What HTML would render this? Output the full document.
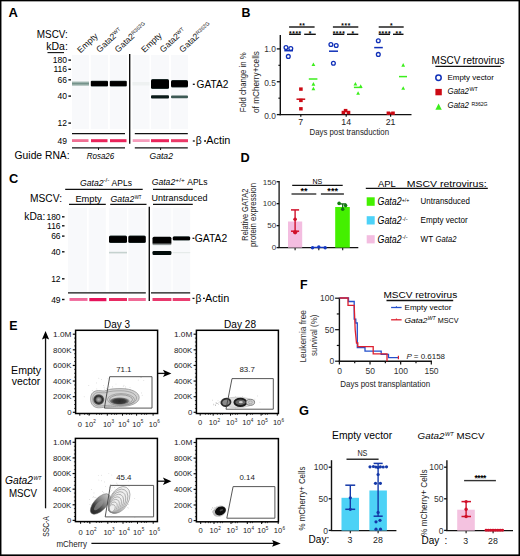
<!DOCTYPE html>
<html><head><meta charset="utf-8"><style>
html,body{margin:0;padding:0;background:#fff;}
body{width:520px;height:556px;overflow:hidden;position:relative;}
svg{position:absolute;left:0;top:0;display:block;}
text{font-family:"Liberation Sans", sans-serif;}
</style></head><body>
<svg width="520" height="556" viewBox="0 0 520 556" font-family='"Liberation Sans", sans-serif'>
<rect x="0" y="0" width="520" height="556" fill="#fff"/>
<defs>
<linearGradient id="bandFaint" x1="0" y1="0" x2="0" y2="1">
<stop offset="0" stop-color="#c9d6d2"/><stop offset="0.5" stop-color="#6f8f86"/><stop offset="1" stop-color="#d0dbd8"/></linearGradient>
<linearGradient id="bandDark" x1="0" y1="0" x2="0" y2="1">
<stop offset="0" stop-color="#2a3c3a"/><stop offset="0.15" stop-color="#000"/><stop offset="0.85" stop-color="#000"/><stop offset="1" stop-color="#2a3c3a"/></linearGradient>
<linearGradient id="bandFade" x1="0" y1="0" x2="0" y2="1">
<stop offset="0" stop-color="#000"/><stop offset="0.66" stop-color="#000"/><stop offset="1" stop-color="#e4ecec"/></linearGradient>
<filter id="soft" x="-20%" y="-20%" width="140%" height="140%"><feGaussianBlur stdDeviation="0.45"/></filter>
<radialGradient id="ringL" cx="0.5" cy="0.5" r="0.5">
<stop offset="0" stop-color="#b8b8b8"/><stop offset="0.3" stop-color="#8a8a8a"/><stop offset="0.6" stop-color="#262626"/><stop offset="0.8" stop-color="#555"/><stop offset="1" stop-color="#aaa" stop-opacity="0"/></radialGradient>
<radialGradient id="blobR" cx="0.5" cy="0.6" r="0.5">
<stop offset="0" stop-color="#2a2a2a"/><stop offset="0.55" stop-color="#3a3a3a"/><stop offset="0.8" stop-color="#777"/><stop offset="1" stop-color="#999" stop-opacity="0"/></radialGradient>
<linearGradient id="ringD" x1="0" y1="0" x2="1" y2="0">
<stop offset="0" stop-color="#2a2a2a"/><stop offset="0.3" stop-color="#3a3a3a"/><stop offset="0.55" stop-color="#777"/><stop offset="0.8" stop-color="#a8a8a8"/><stop offset="1" stop-color="#c8c8c8"/></linearGradient>
<radialGradient id="blob" cx="0.5" cy="0.5" r="0.5">
<stop offset="0" stop-color="#111"/><stop offset="0.6" stop-color="#333"/><stop offset="1" stop-color="#888" stop-opacity="0.3"/></radialGradient>
</defs>
<text x="8.6" y="16.8" font-size="12.6" font-weight="bold" fill="#000" textLength="9.4" lengthAdjust="spacingAndGlyphs">A</text>
<text x="67.8" y="37.8" font-size="10.5" text-anchor="end" textLength="31" lengthAdjust="spacingAndGlyphs">MSCV:</text>
<text x="67.8" y="50.3" font-size="10.5" text-anchor="end" textLength="21.5" lengthAdjust="spacingAndGlyphs">kDa:</text>
<line x1="47.5" y1="52.6" x2="64" y2="52.6" stroke="#111" stroke-width="1.1" />
<text x="80.5" y="53.4" font-size="8.6" fill="#111" transform="rotate(-43 80.5 53.4)">Empty</text>
<text x="99.5" y="52.9" font-size="8.6" fill="#111" transform="rotate(-43 99.5 52.9)">Gata2<tspan font-size="5.2" dy="-2.6">WT</tspan></text>
<text x="118.0" y="52.9" font-size="8.6" fill="#111" transform="rotate(-43 118.0 52.9)">Gata2<tspan font-size="5.2" dy="-2.6">R362G</tspan></text>
<text x="144.5" y="52.9" font-size="8.6" fill="#111" transform="rotate(-43 144.5 52.9)">Empty</text>
<text x="163.0" y="52.9" font-size="8.6" fill="#111" transform="rotate(-43 163.0 52.9)">Gata2<tspan font-size="5.2" dy="-2.6">WT</tspan></text>
<text x="182.5" y="52.9" font-size="8.6" fill="#111" transform="rotate(-43 182.5 52.9)">Gata2<tspan font-size="5.2" dy="-2.6">R362G</tspan></text>
<text x="67.0" y="63.1" font-size="8.5" text-anchor="end">180</text>
<line x1="68.4" y1="60.1" x2="71.0" y2="60.1" stroke="#111" stroke-width="1.4" />
<text x="67.0" y="72.3" font-size="8.5" text-anchor="end">116</text>
<line x1="68.4" y1="69.3" x2="71.0" y2="69.3" stroke="#111" stroke-width="1.4" />
<text x="67.0" y="82.8" font-size="8.5" text-anchor="end">66</text>
<line x1="68.4" y1="79.8" x2="71.0" y2="79.8" stroke="#111" stroke-width="1.4" />
<text x="67.0" y="99.1" font-size="8.5" text-anchor="end">40</text>
<line x1="68.4" y1="96.1" x2="71.0" y2="96.1" stroke="#111" stroke-width="1.4" />
<text x="67.0" y="126.1" font-size="8.5" text-anchor="end">12</text>
<line x1="68.4" y1="123.1" x2="71.0" y2="123.1" stroke="#111" stroke-width="1.4" />
<text x="67.0" y="143.6" font-size="8.5" text-anchor="end">49</text>
<rect x="72" y="55" width="17" height="74" fill="#f8f9fb" />
<rect x="90.8" y="55" width="17.200000000000003" height="74" fill="#f8f9fb" />
<rect x="109.8" y="55" width="17.200000000000003" height="74" fill="#f8f9fb" />
<rect x="132.5" y="55" width="17.0" height="74" fill="#f8f9fb" />
<rect x="151" y="55" width="18" height="74" fill="#f8f9fb" />
<rect x="171" y="55" width="17" height="74" fill="#f8f9fb" />
<rect x="72" y="81.3" width="17" height="4.7" fill="url(#bandFaint)" />
<rect x="90.8" y="80.8" width="17.2" height="5.8" fill="url(#bandDark)" rx="1"/>
<rect x="109.8" y="80.8" width="17" height="5.8" fill="url(#bandDark)" rx="1"/>
<rect x="132.5" y="82" width="17" height="3.5" fill="#eef1f1" />
<rect x="151" y="79" width="18" height="10" fill="url(#bandDark)" rx="1.5"/>
<rect x="171" y="80" width="17" height="7.5" fill="url(#bandDark)" rx="1.5"/>
<rect x="151" y="95.3" width="18" height="3.2" fill="#0a1a18" rx="1"/>
<rect x="171" y="95.5" width="17" height="2.8" fill="#3d5a55" rx="1"/>
<line x1="72" y1="133.7" x2="125" y2="133.7" stroke="#111" stroke-width="1.3" />
<line x1="134.8" y1="133.7" x2="187.8" y2="133.7" stroke="#111" stroke-width="1.3" />
<line x1="72" y1="147.8" x2="125" y2="147.8" stroke="#111" stroke-width="1.3" />
<line x1="134.8" y1="147.8" x2="187.8" y2="147.8" stroke="#111" stroke-width="1.3" />
<line x1="98.5" y1="147.8" x2="98.5" y2="150" stroke="#111" stroke-width="1" />
<line x1="160.6" y1="147.8" x2="160.6" y2="150" stroke="#111" stroke-width="1" />
<line x1="129.7" y1="54" x2="129.7" y2="143.8" stroke="#111" stroke-width="1.4" />
<rect x="72" y="139.2" width="16.5" height="2.8" fill="#ef6f93" />
<rect x="91" y="139.2" width="16.5" height="3" fill="#e8245a" />
<rect x="110" y="139.2" width="16.5" height="3" fill="#e8245a" />
<rect x="132.7" y="139.2" width="17" height="2.8" fill="#f59cbb" />
<rect x="151" y="139.2" width="18" height="3" fill="#e8245a" />
<rect x="171" y="139.2" width="17" height="3" fill="#ea3a68" />
<line x1="192.8" y1="84.3" x2="194.8" y2="84.3" stroke="#111" stroke-width="1.3" />
<text x="196.6" y="87.7" font-size="10.3" textLength="31.8" lengthAdjust="spacingAndGlyphs">GATA2</text>
<line x1="192.8" y1="141" x2="194.8" y2="141" stroke="#111" stroke-width="1.3" />
<text x="195.8" y="143.5" font-size="10.3">β</text>
<line x1="204.1" y1="141" x2="206" y2="141" stroke="#111" stroke-width="1.3" />
<text x="206.2" y="143.5" font-size="10.3" textLength="24.2" lengthAdjust="spacingAndGlyphs">Actin</text>
<text x="14.6" y="159.3" font-size="10.6" textLength="55" lengthAdjust="spacingAndGlyphs">Guide RNA:</text>
<text x="100.5" y="158.8" font-size="8.2" text-anchor="middle" font-style="italic" textLength="27.5" lengthAdjust="spacingAndGlyphs">Rosa26</text>
<text x="161.2" y="158.8" font-size="8.2" text-anchor="middle" font-style="italic" textLength="23.5" lengthAdjust="spacingAndGlyphs">Gata2</text>
<text x="241.4" y="17.4" font-size="12.4" font-weight="bold" fill="#000">B</text>
<line x1="280.3" y1="35" x2="280.3" y2="115.3" stroke="#111" stroke-width="1.4" />
<line x1="276.8" y1="114.6" x2="280.3" y2="114.6" stroke="#111" stroke-width="1.3" />
<line x1="276.8" y1="81.75" x2="280.3" y2="81.75" stroke="#111" stroke-width="1.3" />
<line x1="276.8" y1="48.89999999999999" x2="280.3" y2="48.89999999999999" stroke="#111" stroke-width="1.3" />
<line x1="278.4" y1="98.175" x2="280.3" y2="98.175" stroke="#111" stroke-width="1.2" />
<line x1="278.4" y1="65.32499999999999" x2="280.3" y2="65.32499999999999" stroke="#111" stroke-width="1.2" />
<text x="275.8" y="52.3" font-size="8.4" text-anchor="end" fill="#333">1.0</text>
<text x="275.8" y="85.6" font-size="8.4" text-anchor="end" fill="#333">0.5</text>
<text x="275.8" y="118.7" font-size="8.4" text-anchor="end" fill="#333">0.0</text>
<line x1="279.6" y1="114.6" x2="411.5" y2="114.6" stroke="#111" stroke-width="1.4" />
<line x1="300.8" y1="114.6" x2="300.8" y2="116.8" stroke="#111" stroke-width="1.2" />
<text x="300.8" y="125.4" font-size="8.8" text-anchor="middle" fill="#222">7</text>
<line x1="346.2" y1="114.6" x2="346.2" y2="116.8" stroke="#111" stroke-width="1.2" />
<text x="346.2" y="125.4" font-size="8.8" text-anchor="middle" fill="#222">14</text>
<line x1="390.6" y1="114.6" x2="390.6" y2="116.8" stroke="#111" stroke-width="1.2" />
<text x="390.6" y="125.4" font-size="8.8" text-anchor="middle" fill="#222">21</text>
<text x="349.25" y="135" font-size="9.8" text-anchor="middle" fill="#222" textLength="79.5" lengthAdjust="spacingAndGlyphs">Days post transduction</text>
<text x="246" y="82.3" font-size="9" text-anchor="middle" fill="#222" textLength="60" lengthAdjust="spacingAndGlyphs" transform="rotate(-90 246 82.3)">Fold change in %</text>
<text x="258.7" y="82" font-size="9" text-anchor="middle" fill="#222" textLength="62" lengthAdjust="spacingAndGlyphs" transform="rotate(-90 258.7 82)">of mCherry+cells</text>
<line x1="284.3" y1="50.7" x2="293" y2="50.7" stroke="#1030b8" stroke-width="1.5" />
<circle cx="286" cy="47.5" r="1.9" fill="none" stroke="#1030b8" stroke-width="1.3"/>
<circle cx="290.8" cy="48.6" r="1.9" fill="none" stroke="#1030b8" stroke-width="1.3"/>
<circle cx="288.3" cy="56.4" r="1.9" fill="none" stroke="#1030b8" stroke-width="1.3"/>
<line x1="296.5" y1="99.2" x2="305.2" y2="99.2" stroke="#cc0a14" stroke-width="1.5" />
<rect x="299.09999999999997" y="87.39999999999999" width="3.6" height="3.4" fill="#cc0a14" />
<rect x="299.09999999999997" y="98.7" width="3.6" height="3.4" fill="#cc0a14" />
<rect x="299.09999999999997" y="107.1" width="3.6" height="3.4" fill="#cc0a14" />
<line x1="308.8" y1="79" x2="317.4" y2="79" stroke="#3cee1c" stroke-width="1.5" />
<path d="M311.5,66.0 L315.29999999999995,66.0 L313.4,62.4 Z" fill="#3cee1c" stroke="none" stroke-width="1" />
<path d="M311.5,85.7 L315.29999999999995,85.7 L313.4,82.1 Z" fill="#3cee1c" stroke="none" stroke-width="1" />
<path d="M311.5,90.3 L315.29999999999995,90.3 L313.4,86.69999999999999 Z" fill="#3cee1c" stroke="none" stroke-width="1" />
<line x1="329" y1="51.2" x2="338" y2="51.2" stroke="#1030b8" stroke-width="1.5" />
<circle cx="330.9" cy="44.5" r="1.9" fill="none" stroke="#1030b8" stroke-width="1.3"/>
<circle cx="336.2" cy="45.5" r="1.9" fill="none" stroke="#1030b8" stroke-width="1.3"/>
<circle cx="333.4" cy="63.2" r="1.9" fill="none" stroke="#1030b8" stroke-width="1.3"/>
<rect x="341.59999999999997" y="110.8" width="3.6" height="3.4" fill="#cc0a14" />
<rect x="346.7" y="110.8" width="3.6" height="3.4" fill="#cc0a14" />
<rect x="343.8" y="108.89999999999999" width="3.6" height="3.4" fill="#cc0a14" />
<line x1="353.9" y1="87.4" x2="362.1" y2="87.4" stroke="#3cee1c" stroke-width="1.5" />
<path d="M353.5,85.5 L357.29999999999995,85.5 L355.4,81.89999999999999 Z" fill="#3cee1c" stroke="none" stroke-width="1" />
<path d="M358.8,87.9 L362.59999999999997,87.9 L360.7,84.3 Z" fill="#3cee1c" stroke="none" stroke-width="1" />
<path d="M356.20000000000005,94.8 L360.0,94.8 L358.1,91.19999999999999 Z" fill="#3cee1c" stroke="none" stroke-width="1" />
<line x1="374.2" y1="47.6" x2="382.8" y2="47.6" stroke="#1030b8" stroke-width="1.5" />
<circle cx="378.3" cy="40.8" r="1.9" fill="none" stroke="#1030b8" stroke-width="1.3"/>
<circle cx="378.3" cy="54.4" r="1.9" fill="none" stroke="#1030b8" stroke-width="1.3"/>
<rect x="386.59999999999997" y="111.5" width="3.6" height="3.4" fill="#cc0a14" />
<rect x="391.2" y="111.5" width="3.6" height="3.4" fill="#cc0a14" />
<line x1="388" y1="113.2" x2="393.4" y2="113.2" stroke="#cc0a14" stroke-width="1.6" />
<line x1="399" y1="76.6" x2="407" y2="76.6" stroke="#3cee1c" stroke-width="1.5" />
<path d="M401.3,66.7 L405.09999999999997,66.7 L403.2,63.1 Z" fill="#3cee1c" stroke="none" stroke-width="1" />
<path d="M401.3,89.8 L405.09999999999997,89.8 L403.2,86.19999999999999 Z" fill="#3cee1c" stroke="none" stroke-width="1" />
<line x1="289.1" y1="27" x2="314.6" y2="27" stroke="#111" stroke-width="1.4" />
<text x="302.3" y="28.2" font-size="6.6" text-anchor="middle" font-weight="bold" letter-spacing="0.6">**</text>
<line x1="289.1" y1="34.3" x2="300.8" y2="34.3" stroke="#111" stroke-width="1.4" />
<text x="295.40000000000003" y="35.5" font-size="6.6" text-anchor="middle" font-weight="bold" letter-spacing="0.6">****</text>
<line x1="304.2" y1="34.3" x2="315.8" y2="34.3" stroke="#111" stroke-width="1.4" />
<text x="310.45" y="35.5" font-size="6.6" text-anchor="middle" font-weight="bold" letter-spacing="0.6">*</text>
<line x1="332.9" y1="27" x2="358.3" y2="27" stroke="#111" stroke-width="1.4" />
<text x="346.05" y="28.2" font-size="6.6" text-anchor="middle" font-weight="bold" letter-spacing="0.6">***</text>
<line x1="332.9" y1="34.3" x2="344.3" y2="34.3" stroke="#111" stroke-width="1.4" />
<text x="339.05" y="35.5" font-size="6.6" text-anchor="middle" font-weight="bold" letter-spacing="0.6">****</text>
<line x1="347" y1="34.3" x2="358.3" y2="34.3" stroke="#111" stroke-width="1.4" />
<text x="353.09999999999997" y="35.5" font-size="6.6" text-anchor="middle" font-weight="bold" letter-spacing="0.6">*</text>
<line x1="378.7" y1="27" x2="403.7" y2="27" stroke="#111" stroke-width="1.4" />
<text x="391.65" y="28.2" font-size="6.6" text-anchor="middle" font-weight="bold" letter-spacing="0.6">*</text>
<line x1="378.7" y1="34.3" x2="390" y2="34.3" stroke="#111" stroke-width="1.4" />
<text x="384.8" y="35.5" font-size="6.6" text-anchor="middle" font-weight="bold" letter-spacing="0.6">****</text>
<line x1="393" y1="34.3" x2="403.5" y2="34.3" stroke="#111" stroke-width="1.4" />
<text x="398.7" y="35.5" font-size="6.6" text-anchor="middle" font-weight="bold" letter-spacing="0.6">**</text>
<text x="431.6" y="63.8" font-size="10" textLength="73" lengthAdjust="spacingAndGlyphs">MSCV retrovirus</text>
<line x1="435.4" y1="66.4" x2="500.8" y2="66.4" stroke="#111" stroke-width="1.3" />
<circle cx="438.5" cy="77.7" r="2.7" fill="none" stroke="#1030b8" stroke-width="1.5"/>
<text x="447.5" y="80.3" font-size="8" textLength="46.4" lengthAdjust="spacingAndGlyphs">Empty vector</text>
<rect x="435.4" y="88.9" width="6.4" height="6.4" fill="#cc0a14" />
<text x="447.5" y="94.1" font-size="8.5" font-style="italic" textLength="21.5" lengthAdjust="spacingAndGlyphs">Gata2</text>
<text x="469.5" y="91.2" font-size="5.5" textLength="8.3" lengthAdjust="spacingAndGlyphs">WT</text>
<path d="M435.4,109.7 L441.8,109.7 L438.6,103.6 Z" fill="#3cee1c" stroke="none" stroke-width="1" />
<text x="447.5" y="108" font-size="8.5" font-style="italic" textLength="21.5" lengthAdjust="spacingAndGlyphs">Gata2</text>
<text x="471.4" y="106.2" font-size="5.3" textLength="16.2" lengthAdjust="spacingAndGlyphs">R362G</text>
<text x="8.9" y="183.4" font-size="12.8" font-weight="bold" fill="#000">C</text>
<text x="80" y="185.5" font-size="9.5" font-style="italic" textLength="23.5" lengthAdjust="spacingAndGlyphs">Gata2</text>
<text x="103.3" y="182.2" font-size="5.5" textLength="6" lengthAdjust="spacingAndGlyphs">-/-</text>
<text x="111.6" y="185.5" font-size="9.5" textLength="20.4" lengthAdjust="spacingAndGlyphs">APLs</text>
<line x1="65.2" y1="189.3" x2="142.7" y2="189.3" stroke="#111" stroke-width="1.3" />
<text x="151.7" y="184.8" font-size="9.5" font-style="italic" textLength="23.5" lengthAdjust="spacingAndGlyphs">Gata2</text>
<text x="175.3" y="181.5" font-size="5.5" textLength="9.5" lengthAdjust="spacingAndGlyphs">+/+</text>
<text x="187.2" y="184.8" font-size="9.5" textLength="20.4" lengthAdjust="spacingAndGlyphs">APLs</text>
<line x1="153" y1="189.3" x2="192.8" y2="189.3" stroke="#111" stroke-width="1.3" />
<text x="62" y="202" font-size="10" text-anchor="end" textLength="32" lengthAdjust="spacingAndGlyphs">MSCV:</text>
<text x="75.4" y="201.8" font-size="9.5" textLength="26.4" lengthAdjust="spacingAndGlyphs">Empty</text>
<line x1="69" y1="204.3" x2="105.8" y2="204.3" stroke="#111" stroke-width="1.3" />
<text x="110.5" y="201.8" font-size="9.5" font-style="italic" textLength="23.8" lengthAdjust="spacingAndGlyphs">Gata2</text>
<text x="134.7" y="198.6" font-size="5.5" textLength="6.8" lengthAdjust="spacingAndGlyphs">WT</text>
<line x1="110.2" y1="204.3" x2="146.5" y2="204.3" stroke="#111" stroke-width="1.3" />
<text x="151.5" y="201.4" font-size="9.5" textLength="56" lengthAdjust="spacingAndGlyphs">Untransduced</text>
<line x1="153" y1="204.3" x2="192.8" y2="204.3" stroke="#111" stroke-width="1.3" />
<text x="45.3" y="219.6" font-size="10" text-anchor="end" textLength="21" lengthAdjust="spacingAndGlyphs">kDa:</text>
<text x="60.6" y="219.8" font-size="8.5" text-anchor="end">180</text>
<line x1="62.0" y1="216.8" x2="64.5" y2="216.8" stroke="#111" stroke-width="1.4" />
<text x="60.6" y="228.8" font-size="8.5" text-anchor="end">116</text>
<line x1="62.0" y1="225.8" x2="64.5" y2="225.8" stroke="#111" stroke-width="1.4" />
<text x="60.6" y="239.1" font-size="8.5" text-anchor="end">66</text>
<line x1="62.0" y1="236.1" x2="64.5" y2="236.1" stroke="#111" stroke-width="1.4" />
<text x="60.6" y="254.8" font-size="8.5" text-anchor="end">40</text>
<line x1="62.0" y1="251.8" x2="64.5" y2="251.8" stroke="#111" stroke-width="1.4" />
<text x="60.6" y="281.8" font-size="8.5" text-anchor="end">12</text>
<line x1="62.0" y1="278.8" x2="64.5" y2="278.8" stroke="#111" stroke-width="1.4" />
<text x="60.6" y="302.5" font-size="8.5" text-anchor="end">49</text>
<line x1="62.0" y1="299.5" x2="64.5" y2="299.5" stroke="#111" stroke-width="1.4" />
<rect x="68" y="207.8" width="19" height="84.5" fill="#f8f9fb" />
<rect x="88.7" y="207.8" width="17.099999999999994" height="84.5" fill="#f8f9fb" />
<rect x="109" y="207.8" width="18" height="84.5" fill="#f8f9fb" />
<rect x="128.3" y="207.8" width="17.5" height="84.5" fill="#f8f9fb" />
<rect x="152.5" y="207.8" width="18.900000000000006" height="84.5" fill="#f8f9fb" />
<rect x="172.7" y="207.8" width="17.5" height="84.5" fill="#f8f9fb" />
<rect x="109" y="235.5" width="18" height="7.6" fill="url(#bandDark)" rx="1.5"/>
<rect x="128.3" y="235.5" width="17.5" height="7.6" fill="url(#bandDark)" rx="1.5"/>
<rect x="152.5" y="236.8" width="18.9" height="8.8" fill="url(#bandFade)" rx="1.5"/>
<rect x="172.7" y="236.3" width="17.5" height="4.3" fill="url(#bandDark)" rx="1.5"/>
<rect x="152.5" y="251" width="18.9" height="4" fill="#020c0b" rx="1.2"/>
<rect x="109" y="251.8" width="18" height="1.6" fill="#c5d2cf" />
<rect x="172.7" y="252" width="17.5" height="1.2" fill="#e6ebea" />
<line x1="68" y1="292.9" x2="145.8" y2="292.9" stroke="#111" stroke-width="1.3" />
<line x1="151" y1="292.9" x2="190.2" y2="292.9" stroke="#111" stroke-width="1.3" />
<line x1="149.3" y1="206.7" x2="149.3" y2="301" stroke="#111" stroke-width="1.4" />
<rect x="69.5" y="298" width="18" height="2.9" fill="#f0679a" />
<rect x="89.3" y="298" width="17.1" height="3.2" fill="#e6125a" />
<rect x="109" y="298" width="18" height="3" fill="#e82a62" />
<rect x="128.3" y="298" width="17.5" height="3" fill="#f06a96" />
<rect x="152.5" y="298" width="18.9" height="3" fill="#e8386c" />
<rect x="172.7" y="298" width="17.5" height="3" fill="#ea3e70" />
<line x1="192.5" y1="238.3" x2="194.4" y2="238.3" stroke="#111" stroke-width="1.3" />
<text x="194.8" y="242.4" font-size="10.3" textLength="32.4" lengthAdjust="spacingAndGlyphs">GATA2</text>
<line x1="192.5" y1="298.4" x2="194.5" y2="298.4" stroke="#111" stroke-width="1.3" />
<text x="195.4" y="302" font-size="10.3">β</text>
<line x1="203" y1="298.4" x2="204.9" y2="298.4" stroke="#111" stroke-width="1.3" />
<text x="205.1" y="302" font-size="10.3" textLength="24.2" lengthAdjust="spacingAndGlyphs">Actin</text>
<text x="240.6" y="161.7" font-size="12.5" font-weight="bold" fill="#000" textLength="9.2" lengthAdjust="spacingAndGlyphs">D</text>
<line x1="279.1" y1="181" x2="279.1" y2="248.1" stroke="#111" stroke-width="1.3" />
<line x1="276.6" y1="181.70499999999998" x2="279.1" y2="181.70499999999998" stroke="#111" stroke-width="1.3" />
<text x="276.2" y="184.505" font-size="8" text-anchor="end" fill="#333">150</text>
<line x1="276.6" y1="203.67" x2="279.1" y2="203.67" stroke="#111" stroke-width="1.3" />
<text x="276.2" y="206.47" font-size="8" text-anchor="end" fill="#333">100</text>
<line x1="276.6" y1="225.635" x2="279.1" y2="225.635" stroke="#111" stroke-width="1.3" />
<text x="276.2" y="228.435" font-size="8" text-anchor="end" fill="#333">50</text>
<line x1="276.6" y1="247.6" x2="279.1" y2="247.6" stroke="#111" stroke-width="1.3" />
<text x="276.2" y="250.4" font-size="8" text-anchor="end" fill="#333">0</text>
<line x1="278.5" y1="247.6" x2="358.3" y2="247.6" stroke="#111" stroke-width="1.3" />
<line x1="295.1" y1="247.6" x2="295.1" y2="250.3" stroke="#111" stroke-width="1.1" />
<line x1="318.8" y1="247.6" x2="318.8" y2="250.3" stroke="#111" stroke-width="1.1" />
<line x1="342.7" y1="247.6" x2="342.7" y2="250.3" stroke="#111" stroke-width="1.1" />
<rect x="288" y="221.5" width="14.2" height="26.1" fill="#f3bde0" />
<line x1="295.1" y1="209.9" x2="295.1" y2="231.2" stroke="#d0102a" stroke-width="1.4" />
<line x1="291" y1="209.9" x2="299.1" y2="209.9" stroke="#d0102a" stroke-width="1.5" />
<line x1="291" y1="231.2" x2="299.1" y2="231.2" stroke="#d0102a" stroke-width="1.5" />
<circle cx="295.1" cy="219.2" r="1.8" fill="#d0102a" stroke="none" stroke-width="1"/>
<circle cx="295.1" cy="232.3" r="2.1" fill="#d0102a" stroke="none" stroke-width="1"/>
<line x1="312.5" y1="247.4" x2="325.2" y2="247.4" stroke="#1438c0" stroke-width="1.3" />
<circle cx="312.5" cy="247.7" r="1.7" fill="#1438c0" stroke="none" stroke-width="1"/>
<circle cx="318.8" cy="246.9" r="1.7" fill="#1438c0" stroke="none" stroke-width="1"/>
<circle cx="325.2" cy="247.7" r="1.7" fill="#1438c0" stroke="none" stroke-width="1"/>
<rect x="335.2" y="207" width="14.6" height="40.6" fill="#44f000" />
<line x1="342.7" y1="203.9" x2="342.7" y2="209.3" stroke="#106a10" stroke-width="1.3" />
<line x1="338.4" y1="203.9" x2="346.3" y2="203.9" stroke="#106a10" stroke-width="1.3" />
<circle cx="339.1" cy="203.4" r="1.8" fill="#127a12" stroke="none" stroke-width="1"/>
<circle cx="345.6" cy="205.6" r="1.8" fill="#127a12" stroke="none" stroke-width="1"/>
<circle cx="342.7" cy="209.3" r="1.8" fill="#127a12" stroke="none" stroke-width="1"/>
<line x1="292.2" y1="185.4" x2="342.7" y2="185.4" stroke="#111" stroke-width="1.2" />
<text x="317.3" y="183.7" font-size="8" text-anchor="middle" textLength="9.8" lengthAdjust="spacingAndGlyphs">NS</text>
<line x1="291.5" y1="194" x2="316.3" y2="194" stroke="#111" stroke-width="1.2" />
<text x="304.1" y="194.3" font-size="9" text-anchor="middle" font-weight="bold" letter-spacing="0.1">**</text>
<line x1="320.9" y1="194" x2="343.9" y2="194" stroke="#333" stroke-width="1.5" />
<text x="332.7" y="194.3" font-size="9" text-anchor="middle" font-weight="bold" letter-spacing="0.1">***</text>
<text x="248.3" y="214.7" font-size="9" text-anchor="middle" fill="#222" textLength="52" lengthAdjust="spacingAndGlyphs" transform="rotate(-90 248.3 214.7)">Relative GATA2</text>
<text x="255.9" y="215" font-size="9" text-anchor="middle" fill="#222" textLength="64" lengthAdjust="spacingAndGlyphs" transform="rotate(-90 255.9 215)">protein expression</text>
<text x="378" y="186.5" font-size="9.8" textLength="17.8" lengthAdjust="spacingAndGlyphs">APL</text>
<text x="406.8" y="186.5" font-size="9.8" textLength="79.8" lengthAdjust="spacingAndGlyphs">MSCV retrovirus:</text>
<line x1="365.8" y1="188.4" x2="487.8" y2="188.4" stroke="#111" stroke-width="1.3" />
<rect x="366.7" y="197.3" width="8" height="8.5" fill="#44f000" />
<rect x="366.7" y="216.2" width="8" height="8.3" fill="#4dd2f8" />
<rect x="366.7" y="235.2" width="8" height="8.2" fill="#f3bde0" />
<text x="377.6" y="205.1" font-size="10" font-style="italic" textLength="24" lengthAdjust="spacingAndGlyphs">Gata2</text>
<text x="401.8" y="201.9" font-size="5" textLength="7.6" lengthAdjust="spacingAndGlyphs">+/+</text>
<text x="377.6" y="223.7" font-size="10" font-style="italic" textLength="24" lengthAdjust="spacingAndGlyphs">Gata2</text>
<text x="402.2" y="220.5" font-size="5" textLength="5.4" lengthAdjust="spacingAndGlyphs">-/-</text>
<text x="377.6" y="242.6" font-size="10" font-style="italic" textLength="24" lengthAdjust="spacingAndGlyphs">Gata2</text>
<text x="402.2" y="239.4" font-size="5" textLength="5.4" lengthAdjust="spacingAndGlyphs">-/-</text>
<text x="420.6" y="204.3" font-size="8.5" textLength="49.2" lengthAdjust="spacingAndGlyphs">Untransduced</text>
<text x="420.6" y="222.9" font-size="8.5" textLength="47.2" lengthAdjust="spacingAndGlyphs">Empty vector</text>
<text x="420.6" y="241.5" font-size="8.5" textLength="12.5" lengthAdjust="spacingAndGlyphs">WT</text>
<text x="435.6" y="241.5" font-size="8.5" font-style="italic" textLength="20.8" lengthAdjust="spacingAndGlyphs">Gata2</text>
<text x="9.3" y="329.7" font-size="12.4" font-weight="bold" fill="#000">E</text>
<line x1="45.55" y1="336" x2="45.55" y2="508.3" stroke="#111" stroke-width="1.3" />
<path d="M45.55,330.9 L49.15,339.4 L45.55,337.9 L41.95,339.4 Z" fill="#000" stroke="none" stroke-width="1" />
<text x="26.1" y="374.2" font-size="10.5" text-anchor="middle" textLength="30" lengthAdjust="spacingAndGlyphs">Empty</text>
<text x="26" y="384.6" font-size="10.5" text-anchor="middle" textLength="28.6" lengthAdjust="spacingAndGlyphs">vector</text>
<text x="5" y="484.3" font-size="10.5" font-style="italic" textLength="28" lengthAdjust="spacingAndGlyphs">Gata2</text>
<text x="33.5" y="479.6" font-size="6" font-style="italic" textLength="8" lengthAdjust="spacingAndGlyphs">WT</text>
<text x="23" y="497" font-size="10.5" text-anchor="middle" textLength="28.2" lengthAdjust="spacingAndGlyphs">MSCV</text>
<text x="48.6" y="526.5" font-size="9.5" text-anchor="middle" fill="#222" textLength="20.7" lengthAdjust="spacingAndGlyphs" transform="rotate(-90 48.6 526.5)">SSC-A</text>
<text x="56.4" y="546.6" font-size="9" fill="#222" textLength="30.6" lengthAdjust="spacingAndGlyphs">mCherry</text>
<line x1="91.4" y1="543.4" x2="276" y2="543.4" stroke="#111" stroke-width="1.3" />
<path d="M280.7,543.4 L272.1,546.8 L273.6,543.4 L272.1,540 Z" fill="#000" stroke="none" stroke-width="1" />
<circle cx="116.33" cy="399.5" r="0.35" fill="#aaa" stroke="none" stroke-width="1"/>
<circle cx="101.96" cy="397.95" r="0.35" fill="#aaa" stroke="none" stroke-width="1"/>
<circle cx="111.37" cy="390.43" r="0.35" fill="#aaa" stroke="none" stroke-width="1"/>
<circle cx="141.6" cy="392.95" r="0.35" fill="#aaa" stroke="none" stroke-width="1"/>
<circle cx="114.4" cy="396.38" r="0.35" fill="#aaa" stroke="none" stroke-width="1"/>
<circle cx="130.78" cy="391.81" r="0.35" fill="#aaa" stroke="none" stroke-width="1"/>
<circle cx="123.23" cy="386.16" r="0.35" fill="#aaa" stroke="none" stroke-width="1"/>
<circle cx="109.86" cy="389.37" r="0.35" fill="#aaa" stroke="none" stroke-width="1"/>
<circle cx="96.35" cy="382.95" r="0.35" fill="#aaa" stroke="none" stroke-width="1"/>
<circle cx="92.22" cy="390.57" r="0.35" fill="#aaa" stroke="none" stroke-width="1"/>
<circle cx="112.59" cy="390.08" r="0.35" fill="#aaa" stroke="none" stroke-width="1"/>
<circle cx="115.97" cy="383.99" r="0.35" fill="#aaa" stroke="none" stroke-width="1"/>
<circle cx="113.89" cy="393.43" r="0.35" fill="#aaa" stroke="none" stroke-width="1"/>
<circle cx="125.51" cy="386.92" r="0.35" fill="#aaa" stroke="none" stroke-width="1"/>
<circle cx="109.4" cy="379.91" r="0.35" fill="#aaa" stroke="none" stroke-width="1"/>
<circle cx="107.95" cy="378.82" r="0.35" fill="#aaa" stroke="none" stroke-width="1"/>
<circle cx="95.13" cy="398.61" r="0.35" fill="#aaa" stroke="none" stroke-width="1"/>
<circle cx="84.18" cy="396.79" r="0.35" fill="#aaa" stroke="none" stroke-width="1"/>
<circle cx="119.59" cy="390.13" r="0.35" fill="#aaa" stroke="none" stroke-width="1"/>
<circle cx="121.43" cy="395.16" r="0.35" fill="#aaa" stroke="none" stroke-width="1"/>
<circle cx="129.64" cy="390.62" r="0.35" fill="#aaa" stroke="none" stroke-width="1"/>
<circle cx="106.71" cy="388.37" r="0.35" fill="#aaa" stroke="none" stroke-width="1"/>
<circle cx="101.19" cy="391.73" r="0.35" fill="#aaa" stroke="none" stroke-width="1"/>
<circle cx="104.0" cy="398.41" r="0.35" fill="#aaa" stroke="none" stroke-width="1"/>
<circle cx="88.83" cy="385.44" r="0.35" fill="#aaa" stroke="none" stroke-width="1"/>
<circle cx="101.66" cy="379.44" r="0.35" fill="#aaa" stroke="none" stroke-width="1"/>
<circle cx="141.63" cy="377.55" r="0.35" fill="#aaa" stroke="none" stroke-width="1"/>
<circle cx="111.03" cy="388.85" r="0.35" fill="#aaa" stroke="none" stroke-width="1"/>
<circle cx="138.18" cy="380.09" r="0.35" fill="#aaa" stroke="none" stroke-width="1"/>
<circle cx="130.01" cy="387.61" r="0.35" fill="#aaa" stroke="none" stroke-width="1"/>
<circle cx="112.83" cy="387.97" r="0.35" fill="#aaa" stroke="none" stroke-width="1"/>
<circle cx="123.97" cy="385.17" r="0.35" fill="#aaa" stroke="none" stroke-width="1"/>
<circle cx="113.9" cy="394.12" r="0.35" fill="#aaa" stroke="none" stroke-width="1"/>
<circle cx="140.76" cy="377.57" r="0.35" fill="#aaa" stroke="none" stroke-width="1"/>
<circle cx="136.35" cy="397.69" r="0.35" fill="#aaa" stroke="none" stroke-width="1"/>
<circle cx="108.23" cy="393.83" r="0.35" fill="#aaa" stroke="none" stroke-width="1"/>
<circle cx="108.48" cy="401.88" r="0.35" fill="#aaa" stroke="none" stroke-width="1"/>
<circle cx="117.93" cy="390.71" r="0.35" fill="#aaa" stroke="none" stroke-width="1"/>
<circle cx="111.81" cy="390.8" r="0.35" fill="#aaa" stroke="none" stroke-width="1"/>
<circle cx="112.53" cy="386.73" r="0.35" fill="#aaa" stroke="none" stroke-width="1"/>
<circle cx="143.82" cy="380.53" r="0.35" fill="#aaa" stroke="none" stroke-width="1"/>
<circle cx="64.52" cy="391.26" r="0.35" fill="#aaa" stroke="none" stroke-width="1"/>
<circle cx="112.95" cy="394.23" r="0.35" fill="#aaa" stroke="none" stroke-width="1"/>
<circle cx="112.14" cy="391.11" r="0.35" fill="#aaa" stroke="none" stroke-width="1"/>
<circle cx="119.65" cy="397.81" r="0.35" fill="#aaa" stroke="none" stroke-width="1"/>
<circle cx="108.73" cy="389.76" r="0.35" fill="#aaa" stroke="none" stroke-width="1"/>
<circle cx="142.17" cy="395.18" r="0.35" fill="#aaa" stroke="none" stroke-width="1"/>
<circle cx="101.2" cy="405.94" r="0.35" fill="#aaa" stroke="none" stroke-width="1"/>
<circle cx="125.86" cy="388.47" r="0.35" fill="#aaa" stroke="none" stroke-width="1"/>
<circle cx="98.56" cy="393.79" r="0.35" fill="#aaa" stroke="none" stroke-width="1"/>
<circle cx="103.35" cy="385.65" r="0.35" fill="#aaa" stroke="none" stroke-width="1"/>
<circle cx="96.86" cy="388.96" r="0.35" fill="#aaa" stroke="none" stroke-width="1"/>
<circle cx="130.51" cy="389.4" r="0.35" fill="#aaa" stroke="none" stroke-width="1"/>
<circle cx="94.71" cy="396.01" r="0.35" fill="#aaa" stroke="none" stroke-width="1"/>
<circle cx="115.92" cy="397.06" r="0.35" fill="#aaa" stroke="none" stroke-width="1"/>
<circle cx="131.82" cy="390.99" r="0.35" fill="#aaa" stroke="none" stroke-width="1"/>
<circle cx="112.97" cy="391.73" r="0.35" fill="#aaa" stroke="none" stroke-width="1"/>
<circle cx="99.12" cy="396.01" r="0.35" fill="#aaa" stroke="none" stroke-width="1"/>
<circle cx="134.21" cy="393.04" r="0.35" fill="#aaa" stroke="none" stroke-width="1"/>
<circle cx="111.68" cy="390.44" r="0.35" fill="#aaa" stroke="none" stroke-width="1"/>
<circle cx="104.07" cy="387.18" r="0.35" fill="#aaa" stroke="none" stroke-width="1"/>
<circle cx="109.39" cy="386.95" r="0.35" fill="#aaa" stroke="none" stroke-width="1"/>
<circle cx="108.88" cy="382.54" r="0.35" fill="#aaa" stroke="none" stroke-width="1"/>
<circle cx="119.9" cy="392.29" r="0.35" fill="#aaa" stroke="none" stroke-width="1"/>
<circle cx="98.86" cy="378.21" r="0.35" fill="#aaa" stroke="none" stroke-width="1"/>
<circle cx="114.89" cy="398.62" r="0.35" fill="#aaa" stroke="none" stroke-width="1"/>
<circle cx="104.73" cy="389.1" r="0.35" fill="#aaa" stroke="none" stroke-width="1"/>
<circle cx="107.04" cy="395.92" r="0.35" fill="#aaa" stroke="none" stroke-width="1"/>
<circle cx="102.18" cy="397.91" r="0.35" fill="#aaa" stroke="none" stroke-width="1"/>
<circle cx="110.76" cy="397.55" r="0.35" fill="#aaa" stroke="none" stroke-width="1"/>
<g filter="url(#soft)">
<path d="M90.6,399 C90.6,393 94,390.6 98.5,390.6 C102,390.6 104,391.5 106,390.5 C110,388.8 116,388.6 121,388.6 C132,388.6 139.2,392.5 139.2,397.6 C139.2,403 131,406.4 121,406.4 C114,406.4 110,406.8 106,407 C102,407.7 100,407.8 98.5,407.8 C94,407.8 90.6,404.5 90.6,399 Z" fill="#d2d2d2" stroke="#7a7a7a" stroke-width="0.6" />
<path d="M92.6,399 C92.6,394.5 95,392.6 98.5,392.6 C102,392.6 104,393.2 106,392.5 C110,391 116,390.8 121,390.8 C130,390.8 136.5,394 136.5,398 C136.5,402.5 130,405 121,405 C114,405 110,405.2 106,405.5 C102,406 100,406 98.5,406 C95,406 92.6,403.5 92.6,399 Z" fill="none" stroke="#777" stroke-width="0.5" />
<ellipse cx="121" cy="399.6" rx="13.5" ry="6.0" transform="rotate(0 121 399.6)" fill="none" stroke="#7a7a7a" stroke-width="0.55" opacity="1"/>
<ellipse cx="121" cy="399.6" rx="11.5" ry="4.8" transform="rotate(0 121 399.6)" fill="none" stroke="#6a6a6a" stroke-width="0.55" opacity="1"/>
<ellipse cx="119.5" cy="400.4" rx="11" ry="4.2" transform="rotate(0 119.5 400.4)" fill="url(#blobR)" stroke="none" stroke-width="0" opacity="1"/>
<ellipse cx="98.7" cy="399.6" rx="6.2" ry="6.0" transform="rotate(0 98.7 399.6)" fill="url(#ringL)" stroke="none" stroke-width="0" opacity="1"/>
</g>
<circle cx="236.33" cy="401.31" r="0.35" fill="#aaa" stroke="none" stroke-width="1"/>
<circle cx="221.22" cy="399.94" r="0.35" fill="#aaa" stroke="none" stroke-width="1"/>
<circle cx="233.39" cy="403.98" r="0.35" fill="#aaa" stroke="none" stroke-width="1"/>
<circle cx="238.45" cy="399.91" r="0.35" fill="#aaa" stroke="none" stroke-width="1"/>
<circle cx="240.1" cy="404.96" r="0.35" fill="#aaa" stroke="none" stroke-width="1"/>
<circle cx="234.51" cy="400.68" r="0.35" fill="#aaa" stroke="none" stroke-width="1"/>
<circle cx="232.06" cy="404.43" r="0.35" fill="#aaa" stroke="none" stroke-width="1"/>
<circle cx="241.38" cy="399.21" r="0.35" fill="#aaa" stroke="none" stroke-width="1"/>
<circle cx="239.75" cy="400.56" r="0.35" fill="#aaa" stroke="none" stroke-width="1"/>
<circle cx="228.49" cy="405.72" r="0.35" fill="#aaa" stroke="none" stroke-width="1"/>
<circle cx="244.21" cy="399.83" r="0.35" fill="#aaa" stroke="none" stroke-width="1"/>
<circle cx="236.79" cy="403.5" r="0.35" fill="#aaa" stroke="none" stroke-width="1"/>
<circle cx="229.61" cy="401.64" r="0.35" fill="#aaa" stroke="none" stroke-width="1"/>
<circle cx="242.67" cy="396.63" r="0.35" fill="#aaa" stroke="none" stroke-width="1"/>
<circle cx="239.28" cy="404.22" r="0.35" fill="#aaa" stroke="none" stroke-width="1"/>
<circle cx="241.04" cy="397.98" r="0.35" fill="#aaa" stroke="none" stroke-width="1"/>
<circle cx="239.19" cy="399.41" r="0.35" fill="#aaa" stroke="none" stroke-width="1"/>
<circle cx="241.7" cy="403.81" r="0.35" fill="#aaa" stroke="none" stroke-width="1"/>
<circle cx="238.16" cy="399.7" r="0.35" fill="#aaa" stroke="none" stroke-width="1"/>
<circle cx="230.09" cy="404.56" r="0.35" fill="#aaa" stroke="none" stroke-width="1"/>
<circle cx="227.01" cy="403.49" r="0.35" fill="#aaa" stroke="none" stroke-width="1"/>
<circle cx="241.11" cy="401.16" r="0.35" fill="#aaa" stroke="none" stroke-width="1"/>
<circle cx="259.95" cy="402.21" r="0.35" fill="#aaa" stroke="none" stroke-width="1"/>
<circle cx="257.46" cy="395.95" r="0.35" fill="#aaa" stroke="none" stroke-width="1"/>
<circle cx="213.56" cy="404.95" r="0.35" fill="#aaa" stroke="none" stroke-width="1"/>
<circle cx="242.36" cy="401.06" r="0.35" fill="#aaa" stroke="none" stroke-width="1"/>
<circle cx="235.46" cy="396.29" r="0.35" fill="#aaa" stroke="none" stroke-width="1"/>
<circle cx="229.71" cy="398.9" r="0.35" fill="#aaa" stroke="none" stroke-width="1"/>
<circle cx="233.78" cy="404.66" r="0.35" fill="#aaa" stroke="none" stroke-width="1"/>
<circle cx="236.53" cy="403.12" r="0.35" fill="#aaa" stroke="none" stroke-width="1"/>
<circle cx="229.02" cy="400.7" r="0.35" fill="#aaa" stroke="none" stroke-width="1"/>
<circle cx="237.12" cy="401.15" r="0.35" fill="#aaa" stroke="none" stroke-width="1"/>
<circle cx="248.65" cy="399.37" r="0.35" fill="#aaa" stroke="none" stroke-width="1"/>
<circle cx="254.91" cy="399.06" r="0.35" fill="#aaa" stroke="none" stroke-width="1"/>
<circle cx="246.6" cy="399.68" r="0.35" fill="#aaa" stroke="none" stroke-width="1"/>
<circle cx="252.48" cy="402.41" r="0.35" fill="#aaa" stroke="none" stroke-width="1"/>
<circle cx="239.98" cy="404.23" r="0.35" fill="#aaa" stroke="none" stroke-width="1"/>
<circle cx="229.65" cy="398.87" r="0.35" fill="#aaa" stroke="none" stroke-width="1"/>
<circle cx="215.74" cy="405.66" r="0.35" fill="#aaa" stroke="none" stroke-width="1"/>
<circle cx="229.04" cy="400.22" r="0.35" fill="#aaa" stroke="none" stroke-width="1"/>
<circle cx="235.69" cy="407.97" r="0.35" fill="#aaa" stroke="none" stroke-width="1"/>
<circle cx="218.72" cy="402.75" r="0.35" fill="#aaa" stroke="none" stroke-width="1"/>
<circle cx="232.04" cy="403.6" r="0.35" fill="#aaa" stroke="none" stroke-width="1"/>
<circle cx="218.01" cy="400.81" r="0.35" fill="#aaa" stroke="none" stroke-width="1"/>
<circle cx="244.41" cy="406.68" r="0.35" fill="#aaa" stroke="none" stroke-width="1"/>
<circle cx="219.99" cy="401.29" r="0.35" fill="#888" stroke="none" stroke-width="1"/>
<circle cx="216.14" cy="402.78" r="0.35" fill="#888" stroke="none" stroke-width="1"/>
<circle cx="212.56" cy="400.12" r="0.35" fill="#888" stroke="none" stroke-width="1"/>
<circle cx="217.89" cy="403.49" r="0.35" fill="#888" stroke="none" stroke-width="1"/>
<circle cx="215.64" cy="405.43" r="0.35" fill="#888" stroke="none" stroke-width="1"/>
<circle cx="213.5" cy="404.05" r="0.35" fill="#888" stroke="none" stroke-width="1"/>
<circle cx="216.02" cy="402.88" r="0.35" fill="#888" stroke="none" stroke-width="1"/>
<circle cx="217.23" cy="403.35" r="0.35" fill="#888" stroke="none" stroke-width="1"/>
<circle cx="216.67" cy="403.53" r="0.35" fill="#888" stroke="none" stroke-width="1"/>
<circle cx="220.85" cy="402.38" r="0.35" fill="#888" stroke="none" stroke-width="1"/>
<circle cx="218.53" cy="404.22" r="0.35" fill="#888" stroke="none" stroke-width="1"/>
<circle cx="215.13" cy="404.59" r="0.35" fill="#888" stroke="none" stroke-width="1"/>
<g filter="url(#soft)">
<ellipse cx="237" cy="402.4" rx="17" ry="5.2" transform="rotate(0 237 402.4)" fill="#e0e0e0" stroke="#aaa" stroke-width="0.5" opacity="1"/>
<ellipse cx="226" cy="402.4" rx="4.6" ry="3.6" transform="rotate(-15 226 402.4)" fill="#8a8a8a" stroke="#2a2a2a" stroke-width="1.7" opacity="1"/>
<ellipse cx="240.4" cy="402.3" rx="6.0" ry="3.7" transform="rotate(0 240.4 402.3)" fill="#666" stroke="#1a1a1a" stroke-width="1.9" opacity="1"/>
<ellipse cx="240.8" cy="402.2" rx="2.0" ry="1.1" transform="rotate(0 240.8 402.2)" fill="#ccc" stroke="none" stroke-width="0" opacity="1"/>
<ellipse cx="250.4" cy="402.3" rx="4.2" ry="3.0" transform="rotate(0 250.4 402.3)" fill="#cfcfcf" stroke="#777" stroke-width="0.9" opacity="1"/>
<ellipse cx="250.4" cy="402.3" rx="2.0" ry="1.4" transform="rotate(0 250.4 402.3)" fill="none" stroke="#999" stroke-width="0.6" opacity="1"/>
</g>
<circle cx="101.71" cy="506.44" r="0.35" fill="#aaa" stroke="none" stroke-width="1"/>
<circle cx="102.29" cy="491.59" r="0.35" fill="#aaa" stroke="none" stroke-width="1"/>
<circle cx="115.88" cy="503.49" r="0.35" fill="#aaa" stroke="none" stroke-width="1"/>
<circle cx="122.89" cy="504.04" r="0.35" fill="#aaa" stroke="none" stroke-width="1"/>
<circle cx="109.51" cy="487.4" r="0.35" fill="#aaa" stroke="none" stroke-width="1"/>
<circle cx="118.6" cy="498.72" r="0.35" fill="#aaa" stroke="none" stroke-width="1"/>
<circle cx="100.57" cy="504.76" r="0.35" fill="#aaa" stroke="none" stroke-width="1"/>
<circle cx="114.39" cy="487.38" r="0.35" fill="#aaa" stroke="none" stroke-width="1"/>
<circle cx="117.3" cy="484.07" r="0.35" fill="#aaa" stroke="none" stroke-width="1"/>
<circle cx="101.47" cy="499.62" r="0.35" fill="#aaa" stroke="none" stroke-width="1"/>
<circle cx="93.31" cy="496.34" r="0.35" fill="#aaa" stroke="none" stroke-width="1"/>
<circle cx="95.79" cy="502.63" r="0.35" fill="#aaa" stroke="none" stroke-width="1"/>
<circle cx="103.27" cy="497.64" r="0.35" fill="#aaa" stroke="none" stroke-width="1"/>
<circle cx="93.97" cy="492.9" r="0.35" fill="#aaa" stroke="none" stroke-width="1"/>
<circle cx="123.37" cy="500.12" r="0.35" fill="#aaa" stroke="none" stroke-width="1"/>
<circle cx="89.94" cy="504.32" r="0.35" fill="#aaa" stroke="none" stroke-width="1"/>
<circle cx="122.71" cy="492.61" r="0.35" fill="#aaa" stroke="none" stroke-width="1"/>
<circle cx="129.01" cy="486.47" r="0.35" fill="#aaa" stroke="none" stroke-width="1"/>
<circle cx="110.98" cy="506.02" r="0.35" fill="#aaa" stroke="none" stroke-width="1"/>
<circle cx="127.72" cy="507.52" r="0.35" fill="#aaa" stroke="none" stroke-width="1"/>
<circle cx="98.87" cy="479.98" r="0.35" fill="#aaa" stroke="none" stroke-width="1"/>
<circle cx="116.7" cy="483.12" r="0.35" fill="#aaa" stroke="none" stroke-width="1"/>
<circle cx="110.42" cy="484.47" r="0.35" fill="#aaa" stroke="none" stroke-width="1"/>
<circle cx="124.74" cy="503.23" r="0.35" fill="#aaa" stroke="none" stroke-width="1"/>
<circle cx="118.68" cy="496.15" r="0.35" fill="#aaa" stroke="none" stroke-width="1"/>
<circle cx="112.55" cy="493.32" r="0.35" fill="#aaa" stroke="none" stroke-width="1"/>
<circle cx="116.6" cy="498.24" r="0.35" fill="#aaa" stroke="none" stroke-width="1"/>
<circle cx="117.51" cy="492.14" r="0.35" fill="#aaa" stroke="none" stroke-width="1"/>
<circle cx="134.78" cy="498.54" r="0.35" fill="#aaa" stroke="none" stroke-width="1"/>
<circle cx="128.73" cy="507.98" r="0.35" fill="#aaa" stroke="none" stroke-width="1"/>
<circle cx="101.45" cy="480.82" r="0.35" fill="#aaa" stroke="none" stroke-width="1"/>
<circle cx="127.09" cy="492.51" r="0.35" fill="#aaa" stroke="none" stroke-width="1"/>
<circle cx="112.98" cy="493.67" r="0.35" fill="#aaa" stroke="none" stroke-width="1"/>
<circle cx="113.57" cy="485.29" r="0.35" fill="#aaa" stroke="none" stroke-width="1"/>
<circle cx="110.76" cy="491.83" r="0.35" fill="#aaa" stroke="none" stroke-width="1"/>
<circle cx="111.82" cy="474.98" r="0.35" fill="#aaa" stroke="none" stroke-width="1"/>
<circle cx="121.85" cy="498.99" r="0.35" fill="#aaa" stroke="none" stroke-width="1"/>
<circle cx="91.28" cy="489.39" r="0.35" fill="#aaa" stroke="none" stroke-width="1"/>
<circle cx="112.37" cy="501.66" r="0.35" fill="#aaa" stroke="none" stroke-width="1"/>
<circle cx="112.0" cy="508.45" r="0.35" fill="#aaa" stroke="none" stroke-width="1"/>
<circle cx="112.27" cy="487.0" r="0.35" fill="#aaa" stroke="none" stroke-width="1"/>
<circle cx="103.88" cy="502.69" r="0.35" fill="#aaa" stroke="none" stroke-width="1"/>
<circle cx="104.64" cy="503.57" r="0.35" fill="#aaa" stroke="none" stroke-width="1"/>
<circle cx="124.24" cy="501.3" r="0.35" fill="#aaa" stroke="none" stroke-width="1"/>
<circle cx="124.21" cy="494.44" r="0.35" fill="#aaa" stroke="none" stroke-width="1"/>
<circle cx="111.88" cy="490.67" r="0.35" fill="#aaa" stroke="none" stroke-width="1"/>
<circle cx="104.68" cy="481.91" r="0.35" fill="#aaa" stroke="none" stroke-width="1"/>
<circle cx="105.33" cy="486.36" r="0.35" fill="#aaa" stroke="none" stroke-width="1"/>
<circle cx="94.87" cy="497.32" r="0.35" fill="#aaa" stroke="none" stroke-width="1"/>
<circle cx="117.46" cy="492.92" r="0.35" fill="#aaa" stroke="none" stroke-width="1"/>
<circle cx="128.42" cy="504.47" r="0.35" fill="#aaa" stroke="none" stroke-width="1"/>
<circle cx="124.54" cy="490.57" r="0.35" fill="#aaa" stroke="none" stroke-width="1"/>
<circle cx="94.09" cy="501.02" r="0.35" fill="#aaa" stroke="none" stroke-width="1"/>
<circle cx="115.7" cy="502.53" r="0.35" fill="#aaa" stroke="none" stroke-width="1"/>
<circle cx="117.0" cy="507.34" r="0.35" fill="#aaa" stroke="none" stroke-width="1"/>
<circle cx="108.54" cy="502.01" r="0.35" fill="#aaa" stroke="none" stroke-width="1"/>
<circle cx="101.26" cy="475.22" r="0.35" fill="#aaa" stroke="none" stroke-width="1"/>
<circle cx="106.67" cy="509.49" r="0.35" fill="#aaa" stroke="none" stroke-width="1"/>
<circle cx="91.89" cy="505.15" r="0.35" fill="#aaa" stroke="none" stroke-width="1"/>
<circle cx="103.85" cy="492.4" r="0.35" fill="#aaa" stroke="none" stroke-width="1"/>
<circle cx="112.52" cy="497.91" r="0.35" fill="#aaa" stroke="none" stroke-width="1"/>
<circle cx="100.31" cy="497.14" r="0.35" fill="#aaa" stroke="none" stroke-width="1"/>
<circle cx="117.33" cy="503.51" r="0.35" fill="#aaa" stroke="none" stroke-width="1"/>
<circle cx="102.95" cy="509.96" r="0.35" fill="#aaa" stroke="none" stroke-width="1"/>
<circle cx="134.89" cy="517.74" r="0.35" fill="#aaa" stroke="none" stroke-width="1"/>
<circle cx="95.91" cy="497.56" r="0.35" fill="#aaa" stroke="none" stroke-width="1"/>
<circle cx="89.69" cy="499.4" r="0.35" fill="#aaa" stroke="none" stroke-width="1"/>
<circle cx="118.66" cy="485.66" r="0.35" fill="#aaa" stroke="none" stroke-width="1"/>
<circle cx="92.97" cy="497.69" r="0.35" fill="#aaa" stroke="none" stroke-width="1"/>
<circle cx="119.54" cy="488.87" r="0.35" fill="#aaa" stroke="none" stroke-width="1"/>
<circle cx="108.86" cy="473.26" r="0.35" fill="#aaa" stroke="none" stroke-width="1"/>
<circle cx="103.51" cy="497.32" r="0.35" fill="#aaa" stroke="none" stroke-width="1"/>
<circle cx="113.82" cy="510.25" r="0.35" fill="#aaa" stroke="none" stroke-width="1"/>
<circle cx="98.3" cy="475.73" r="0.35" fill="#aaa" stroke="none" stroke-width="1"/>
<circle cx="117.43" cy="490.68" r="0.35" fill="#aaa" stroke="none" stroke-width="1"/>
<circle cx="115.44" cy="502.47" r="0.35" fill="#aaa" stroke="none" stroke-width="1"/>
<circle cx="119.21" cy="508.98" r="0.35" fill="#aaa" stroke="none" stroke-width="1"/>
<circle cx="128.23" cy="481.02" r="0.35" fill="#aaa" stroke="none" stroke-width="1"/>
<circle cx="111.24" cy="514.01" r="0.35" fill="#aaa" stroke="none" stroke-width="1"/>
<circle cx="107.11" cy="504.7" r="0.35" fill="#aaa" stroke="none" stroke-width="1"/>
<g filter="url(#soft)">
<ellipse cx="119.2" cy="500.0" rx="14.6" ry="9.2" transform="rotate(-60 119.2 500.0)" fill="#eeeeee" stroke="#858585" stroke-width="0.55" opacity="1"/>
<ellipse cx="118.15" cy="501.2" rx="13.1" ry="8.3" transform="rotate(-60 118.15 501.2)" fill="none" stroke="#858585" stroke-width="0.55" opacity="1"/>
<ellipse cx="117.1" cy="502.4" rx="11.6" ry="7.4" transform="rotate(-60 117.1 502.4)" fill="none" stroke="#858585" stroke-width="0.55" opacity="1"/>
<ellipse cx="116.05" cy="503.6" rx="10.1" ry="6.5" transform="rotate(-60 116.05 503.6)" fill="none" stroke="#858585" stroke-width="0.55" opacity="1"/>
<ellipse cx="115.0" cy="504.8" rx="8.6" ry="5.6" transform="rotate(-60 115.0 504.8)" fill="none" stroke="#858585" stroke-width="0.55" opacity="1"/>
<ellipse cx="113.95" cy="506.0" rx="7.1" ry="4.7" transform="rotate(-60 113.95 506.0)" fill="none" stroke="#858585" stroke-width="0.55" opacity="1"/>
<ellipse cx="112.9" cy="507.2" rx="5.6" ry="3.8" transform="rotate(-60 112.9 507.2)" fill="none" stroke="#858585" stroke-width="0.55" opacity="1"/>
<ellipse cx="111.85" cy="508.4" rx="4.1" ry="2.9" transform="rotate(-60 111.85 508.4)" fill="none" stroke="#858585" stroke-width="0.55" opacity="1"/>
<ellipse cx="100.2" cy="504" rx="12.8" ry="6.2" transform="rotate(-47 100.2 504)" fill="url(#ringD)" stroke="#666" stroke-width="0.5" opacity="1"/>
<ellipse cx="98.8" cy="505.2" rx="6.5" ry="2.4" transform="rotate(-47 98.8 505.2)" fill="#9a9a9a" stroke="none" stroke-width="0" opacity="0.6"/>
</g>
<circle cx="215.8" cy="509.95" r="0.35" fill="#777" stroke="none" stroke-width="1"/>
<circle cx="221.54" cy="513.6" r="0.35" fill="#777" stroke="none" stroke-width="1"/>
<circle cx="215.15" cy="513.27" r="0.35" fill="#777" stroke="none" stroke-width="1"/>
<circle cx="211.4" cy="509.19" r="0.35" fill="#777" stroke="none" stroke-width="1"/>
<circle cx="219.16" cy="511.1" r="0.35" fill="#777" stroke="none" stroke-width="1"/>
<circle cx="212.28" cy="512.12" r="0.35" fill="#777" stroke="none" stroke-width="1"/>
<circle cx="217.15" cy="514.21" r="0.35" fill="#777" stroke="none" stroke-width="1"/>
<circle cx="219.35" cy="510.31" r="0.35" fill="#777" stroke="none" stroke-width="1"/>
<circle cx="214.3" cy="510.65" r="0.35" fill="#777" stroke="none" stroke-width="1"/>
<circle cx="215.2" cy="514.65" r="0.35" fill="#777" stroke="none" stroke-width="1"/>
<circle cx="221.56" cy="514.39" r="0.35" fill="#777" stroke="none" stroke-width="1"/>
<circle cx="217.33" cy="510.39" r="0.35" fill="#777" stroke="none" stroke-width="1"/>
<circle cx="219.16" cy="510.13" r="0.35" fill="#777" stroke="none" stroke-width="1"/>
<circle cx="216.83" cy="506.83" r="0.35" fill="#777" stroke="none" stroke-width="1"/>
<circle cx="214.52" cy="514.6" r="0.35" fill="#777" stroke="none" stroke-width="1"/>
<circle cx="212.41" cy="507.27" r="0.35" fill="#777" stroke="none" stroke-width="1"/>
<circle cx="215.43" cy="515.17" r="0.35" fill="#777" stroke="none" stroke-width="1"/>
<circle cx="221.08" cy="510.1" r="0.35" fill="#777" stroke="none" stroke-width="1"/>
<circle cx="214.33" cy="510.72" r="0.35" fill="#777" stroke="none" stroke-width="1"/>
<circle cx="212.74" cy="511.09" r="0.35" fill="#777" stroke="none" stroke-width="1"/>
<circle cx="214.95" cy="507.31" r="0.35" fill="#777" stroke="none" stroke-width="1"/>
<circle cx="213.97" cy="510.36" r="0.35" fill="#777" stroke="none" stroke-width="1"/>
<circle cx="212.99" cy="508.2" r="0.35" fill="#777" stroke="none" stroke-width="1"/>
<circle cx="219.17" cy="515.74" r="0.35" fill="#777" stroke="none" stroke-width="1"/>
<circle cx="214.99" cy="509.94" r="0.35" fill="#777" stroke="none" stroke-width="1"/>
<g filter="url(#soft)">
<ellipse cx="219.5" cy="511.2" rx="7.0" ry="5.3" transform="rotate(-25 219.5 511.2)" fill="#aaa" stroke="none" stroke-width="0" opacity="0.7"/>
<ellipse cx="220.4" cy="510.9" rx="5.6" ry="4.2" transform="rotate(-25 220.4 510.9)" fill="#0a0a0a" stroke="none" stroke-width="0" opacity="1"/>
<ellipse cx="221.4" cy="510.2" rx="2.0" ry="1.0" transform="rotate(-25 221.4 510.2)" fill="#444" stroke="none" stroke-width="0" opacity="1"/>
</g>
<text x="71.5" y="336.95" font-size="7.8" text-anchor="end" fill="#222" textLength="18.4" lengthAdjust="spacingAndGlyphs">1.0M</text>
<line x1="72.8" y1="334.2" x2="75.6" y2="334.2" stroke="#111" stroke-width="1.2" />
<text x="71.5" y="352.57" font-size="7.8" text-anchor="end" fill="#222" textLength="18.4" lengthAdjust="spacingAndGlyphs">800K</text>
<line x1="72.8" y1="349.82" x2="75.6" y2="349.82" stroke="#111" stroke-width="1.2" />
<text x="71.5" y="368.19" font-size="7.8" text-anchor="end" fill="#222" textLength="18.4" lengthAdjust="spacingAndGlyphs">600K</text>
<line x1="72.8" y1="365.44" x2="75.6" y2="365.44" stroke="#111" stroke-width="1.2" />
<text x="71.5" y="383.81" font-size="7.8" text-anchor="end" fill="#222" textLength="18.4" lengthAdjust="spacingAndGlyphs">400K</text>
<line x1="72.8" y1="381.06" x2="75.6" y2="381.06" stroke="#111" stroke-width="1.2" />
<text x="71.5" y="399.43" font-size="7.8" text-anchor="end" fill="#222" textLength="18.4" lengthAdjust="spacingAndGlyphs">200K</text>
<line x1="72.8" y1="396.68" x2="75.6" y2="396.68" stroke="#111" stroke-width="1.2" />
<text x="71.5" y="415.04999999999995" font-size="7.8" text-anchor="end" fill="#222">0</text>
<line x1="72.8" y1="412.29999999999995" x2="75.6" y2="412.29999999999995" stroke="#111" stroke-width="1.2" />
<line x1="74.1" y1="338.10499999999996" x2="75.6" y2="338.10499999999996" stroke="#111" stroke-width="0.8" />
<line x1="74.1" y1="342.01" x2="75.6" y2="342.01" stroke="#111" stroke-width="0.8" />
<line x1="74.1" y1="345.91499999999996" x2="75.6" y2="345.91499999999996" stroke="#111" stroke-width="0.8" />
<line x1="74.1" y1="353.72499999999997" x2="75.6" y2="353.72499999999997" stroke="#111" stroke-width="0.8" />
<line x1="74.1" y1="357.63" x2="75.6" y2="357.63" stroke="#111" stroke-width="0.8" />
<line x1="74.1" y1="361.53499999999997" x2="75.6" y2="361.53499999999997" stroke="#111" stroke-width="0.8" />
<line x1="74.1" y1="369.34499999999997" x2="75.6" y2="369.34499999999997" stroke="#111" stroke-width="0.8" />
<line x1="74.1" y1="373.25" x2="75.6" y2="373.25" stroke="#111" stroke-width="0.8" />
<line x1="74.1" y1="377.155" x2="75.6" y2="377.155" stroke="#111" stroke-width="0.8" />
<line x1="74.1" y1="384.965" x2="75.6" y2="384.965" stroke="#111" stroke-width="0.8" />
<line x1="74.1" y1="388.87" x2="75.6" y2="388.87" stroke="#111" stroke-width="0.8" />
<line x1="74.1" y1="392.775" x2="75.6" y2="392.775" stroke="#111" stroke-width="0.8" />
<line x1="74.1" y1="400.585" x2="75.6" y2="400.585" stroke="#111" stroke-width="0.8" />
<line x1="74.1" y1="404.49" x2="75.6" y2="404.49" stroke="#111" stroke-width="0.8" />
<line x1="74.1" y1="408.395" x2="75.6" y2="408.395" stroke="#111" stroke-width="0.8" />
<text x="79.8" y="426.5" font-size="7.6" text-anchor="middle" fill="#222">0</text>
<line x1="79.8" y1="413.5" x2="79.8" y2="415.7" stroke="#111" stroke-width="1.0" />
<text x="84.69999999999999" y="426.5" font-size="7.6" fill="#222" textLength="8.4" lengthAdjust="spacingAndGlyphs">10</text>
<text x="93.29999999999998" y="423.2" font-size="4.6" fill="#222">2</text>
<line x1="89.1" y1="413.5" x2="89.1" y2="415.7" stroke="#111" stroke-width="1.0" />
<text x="102.89999999999999" y="426.5" font-size="7.6" fill="#222" textLength="8.4" lengthAdjust="spacingAndGlyphs">10</text>
<text x="111.49999999999999" y="423.2" font-size="4.6" fill="#222">3</text>
<line x1="107.3" y1="413.5" x2="107.3" y2="415.7" stroke="#111" stroke-width="1.0" />
<text x="118.1" y="426.5" font-size="7.6" fill="#222" textLength="8.4" lengthAdjust="spacingAndGlyphs">10</text>
<text x="126.69999999999999" y="423.2" font-size="4.6" fill="#222">4</text>
<line x1="122.5" y1="413.5" x2="122.5" y2="415.7" stroke="#111" stroke-width="1.0" />
<text x="132.2" y="426.5" font-size="7.6" fill="#222" textLength="8.4" lengthAdjust="spacingAndGlyphs">10</text>
<text x="140.79999999999998" y="423.2" font-size="4.6" fill="#222">5</text>
<line x1="136.6" y1="413.5" x2="136.6" y2="415.7" stroke="#111" stroke-width="1.0" />
<text x="148.7" y="426.5" font-size="7.6" fill="#222" textLength="8.4" lengthAdjust="spacingAndGlyphs">10</text>
<text x="157.29999999999998" y="423.2" font-size="4.6" fill="#222">6</text>
<line x1="153.1" y1="413.5" x2="153.1" y2="415.7" stroke="#111" stroke-width="1.0" />
<line x1="84.6" y1="413.5" x2="84.6" y2="414.9" stroke="#111" stroke-width="0.7" />
<line x1="87.6" y1="413.5" x2="87.6" y2="414.9" stroke="#111" stroke-width="0.7" />
<line x1="89.6" y1="413.5" x2="89.6" y2="414.9" stroke="#111" stroke-width="0.7" />
<line x1="96.6" y1="413.5" x2="96.6" y2="414.9" stroke="#111" stroke-width="0.7" />
<line x1="99.6" y1="413.5" x2="99.6" y2="414.9" stroke="#111" stroke-width="0.7" />
<line x1="101.6" y1="413.5" x2="101.6" y2="414.9" stroke="#111" stroke-width="0.7" />
<line x1="111.6" y1="413.5" x2="111.6" y2="414.9" stroke="#111" stroke-width="0.7" />
<line x1="114.6" y1="413.5" x2="114.6" y2="414.9" stroke="#111" stroke-width="0.7" />
<line x1="116.6" y1="413.5" x2="116.6" y2="414.9" stroke="#111" stroke-width="0.7" />
<line x1="126.6" y1="413.5" x2="126.6" y2="414.9" stroke="#111" stroke-width="0.7" />
<line x1="129.6" y1="413.5" x2="129.6" y2="414.9" stroke="#111" stroke-width="0.7" />
<line x1="131.6" y1="413.5" x2="131.6" y2="414.9" stroke="#111" stroke-width="0.7" />
<line x1="141.6" y1="413.5" x2="141.6" y2="414.9" stroke="#111" stroke-width="0.7" />
<line x1="144.6" y1="413.5" x2="144.6" y2="414.9" stroke="#111" stroke-width="0.7" />
<line x1="146.6" y1="413.5" x2="146.6" y2="414.9" stroke="#111" stroke-width="0.7" />
<path d="M109.69999999999999,376.7 L152.0,376.7 L152.0,408.1 L104.39999999999999,408.1 Z" fill="none" stroke="#444" stroke-width="0.9" />
<text x="116.2" y="371.5" font-size="7.6" fill="#222" textLength="15.3" lengthAdjust="spacingAndGlyphs">71.1</text>
<rect x="75.6" y="330.3" width="82" height="83.2" fill="none" stroke="#000" stroke-width="1.5"/>
<text x="192.3" y="336.95" font-size="7.8" text-anchor="end" fill="#222" textLength="18.4" lengthAdjust="spacingAndGlyphs">1.0M</text>
<line x1="193.6" y1="334.2" x2="196.4" y2="334.2" stroke="#111" stroke-width="1.2" />
<text x="192.3" y="352.57" font-size="7.8" text-anchor="end" fill="#222" textLength="18.4" lengthAdjust="spacingAndGlyphs">800K</text>
<line x1="193.6" y1="349.82" x2="196.4" y2="349.82" stroke="#111" stroke-width="1.2" />
<text x="192.3" y="368.19" font-size="7.8" text-anchor="end" fill="#222" textLength="18.4" lengthAdjust="spacingAndGlyphs">600K</text>
<line x1="193.6" y1="365.44" x2="196.4" y2="365.44" stroke="#111" stroke-width="1.2" />
<text x="192.3" y="383.81" font-size="7.8" text-anchor="end" fill="#222" textLength="18.4" lengthAdjust="spacingAndGlyphs">400K</text>
<line x1="193.6" y1="381.06" x2="196.4" y2="381.06" stroke="#111" stroke-width="1.2" />
<text x="192.3" y="399.43" font-size="7.8" text-anchor="end" fill="#222" textLength="18.4" lengthAdjust="spacingAndGlyphs">200K</text>
<line x1="193.6" y1="396.68" x2="196.4" y2="396.68" stroke="#111" stroke-width="1.2" />
<text x="192.3" y="415.04999999999995" font-size="7.8" text-anchor="end" fill="#222">0</text>
<line x1="193.6" y1="412.29999999999995" x2="196.4" y2="412.29999999999995" stroke="#111" stroke-width="1.2" />
<line x1="194.9" y1="338.10499999999996" x2="196.4" y2="338.10499999999996" stroke="#111" stroke-width="0.8" />
<line x1="194.9" y1="342.01" x2="196.4" y2="342.01" stroke="#111" stroke-width="0.8" />
<line x1="194.9" y1="345.91499999999996" x2="196.4" y2="345.91499999999996" stroke="#111" stroke-width="0.8" />
<line x1="194.9" y1="353.72499999999997" x2="196.4" y2="353.72499999999997" stroke="#111" stroke-width="0.8" />
<line x1="194.9" y1="357.63" x2="196.4" y2="357.63" stroke="#111" stroke-width="0.8" />
<line x1="194.9" y1="361.53499999999997" x2="196.4" y2="361.53499999999997" stroke="#111" stroke-width="0.8" />
<line x1="194.9" y1="369.34499999999997" x2="196.4" y2="369.34499999999997" stroke="#111" stroke-width="0.8" />
<line x1="194.9" y1="373.25" x2="196.4" y2="373.25" stroke="#111" stroke-width="0.8" />
<line x1="194.9" y1="377.155" x2="196.4" y2="377.155" stroke="#111" stroke-width="0.8" />
<line x1="194.9" y1="384.965" x2="196.4" y2="384.965" stroke="#111" stroke-width="0.8" />
<line x1="194.9" y1="388.87" x2="196.4" y2="388.87" stroke="#111" stroke-width="0.8" />
<line x1="194.9" y1="392.775" x2="196.4" y2="392.775" stroke="#111" stroke-width="0.8" />
<line x1="194.9" y1="400.585" x2="196.4" y2="400.585" stroke="#111" stroke-width="0.8" />
<line x1="194.9" y1="404.49" x2="196.4" y2="404.49" stroke="#111" stroke-width="0.8" />
<line x1="194.9" y1="408.395" x2="196.4" y2="408.395" stroke="#111" stroke-width="0.8" />
<text x="200.20000000000002" y="424.8" font-size="7.6" text-anchor="middle" fill="#222">0</text>
<line x1="200.20000000000002" y1="413.5" x2="200.20000000000002" y2="415.7" stroke="#111" stroke-width="1.0" />
<text x="208.8" y="424.8" font-size="7.6" fill="#222" textLength="8.4" lengthAdjust="spacingAndGlyphs">10</text>
<text x="217.4" y="421.5" font-size="4.6" fill="#222">2</text>
<line x1="213.20000000000002" y1="413.5" x2="213.20000000000002" y2="415.7" stroke="#111" stroke-width="1.0" />
<text x="226.1" y="424.8" font-size="7.6" fill="#222" textLength="8.4" lengthAdjust="spacingAndGlyphs">10</text>
<text x="234.7" y="421.5" font-size="4.6" fill="#222">3</text>
<line x1="230.5" y1="413.5" x2="230.5" y2="415.7" stroke="#111" stroke-width="1.0" />
<text x="242.2" y="424.8" font-size="7.6" fill="#222" textLength="8.4" lengthAdjust="spacingAndGlyphs">10</text>
<text x="250.79999999999998" y="421.5" font-size="4.6" fill="#222">4</text>
<line x1="246.6" y1="413.5" x2="246.6" y2="415.7" stroke="#111" stroke-width="1.0" />
<text x="256.7" y="424.8" font-size="7.6" fill="#222" textLength="8.4" lengthAdjust="spacingAndGlyphs">10</text>
<text x="265.3" y="421.5" font-size="4.6" fill="#222">5</text>
<line x1="261.09999999999997" y1="413.5" x2="261.09999999999997" y2="415.7" stroke="#111" stroke-width="1.0" />
<text x="272.9" y="424.8" font-size="7.6" fill="#222" textLength="8.4" lengthAdjust="spacingAndGlyphs">10</text>
<text x="281.5" y="421.5" font-size="4.6" fill="#222">6</text>
<line x1="277.29999999999995" y1="413.5" x2="277.29999999999995" y2="415.7" stroke="#111" stroke-width="1.0" />
<line x1="205.4" y1="413.5" x2="205.4" y2="414.9" stroke="#111" stroke-width="0.7" />
<line x1="208.4" y1="413.5" x2="208.4" y2="414.9" stroke="#111" stroke-width="0.7" />
<line x1="210.4" y1="413.5" x2="210.4" y2="414.9" stroke="#111" stroke-width="0.7" />
<line x1="217.4" y1="413.5" x2="217.4" y2="414.9" stroke="#111" stroke-width="0.7" />
<line x1="220.4" y1="413.5" x2="220.4" y2="414.9" stroke="#111" stroke-width="0.7" />
<line x1="222.4" y1="413.5" x2="222.4" y2="414.9" stroke="#111" stroke-width="0.7" />
<line x1="232.4" y1="413.5" x2="232.4" y2="414.9" stroke="#111" stroke-width="0.7" />
<line x1="235.4" y1="413.5" x2="235.4" y2="414.9" stroke="#111" stroke-width="0.7" />
<line x1="237.4" y1="413.5" x2="237.4" y2="414.9" stroke="#111" stroke-width="0.7" />
<line x1="247.4" y1="413.5" x2="247.4" y2="414.9" stroke="#111" stroke-width="0.7" />
<line x1="250.4" y1="413.5" x2="250.4" y2="414.9" stroke="#111" stroke-width="0.7" />
<line x1="252.4" y1="413.5" x2="252.4" y2="414.9" stroke="#111" stroke-width="0.7" />
<line x1="262.4" y1="413.5" x2="262.4" y2="414.9" stroke="#111" stroke-width="0.7" />
<line x1="265.4" y1="413.5" x2="265.4" y2="414.9" stroke="#111" stroke-width="0.7" />
<line x1="267.4" y1="413.5" x2="267.4" y2="414.9" stroke="#111" stroke-width="0.7" />
<path d="M232.0,378.6 L273.3,378.6 L273.3,409.20000000000005 L226.0,409.20000000000005 Z" fill="none" stroke="#444" stroke-width="0.9" />
<text x="239.5" y="371.8" font-size="7.6" fill="#222" textLength="15.3" lengthAdjust="spacingAndGlyphs">83.7</text>
<rect x="196.4" y="330.3" width="82" height="83.2" fill="none" stroke="#000" stroke-width="1.5"/>
<text x="71.30000000000001" y="445.04999999999995" font-size="7.8" text-anchor="end" fill="#222" textLength="18.4" lengthAdjust="spacingAndGlyphs">1.0M</text>
<line x1="72.60000000000001" y1="442.29999999999995" x2="75.4" y2="442.29999999999995" stroke="#111" stroke-width="1.2" />
<text x="71.30000000000001" y="460.66999999999996" font-size="7.8" text-anchor="end" fill="#222" textLength="18.4" lengthAdjust="spacingAndGlyphs">800K</text>
<line x1="72.60000000000001" y1="457.91999999999996" x2="75.4" y2="457.91999999999996" stroke="#111" stroke-width="1.2" />
<text x="71.30000000000001" y="476.28999999999996" font-size="7.8" text-anchor="end" fill="#222" textLength="18.4" lengthAdjust="spacingAndGlyphs">600K</text>
<line x1="72.60000000000001" y1="473.53999999999996" x2="75.4" y2="473.53999999999996" stroke="#111" stroke-width="1.2" />
<text x="71.30000000000001" y="491.90999999999997" font-size="7.8" text-anchor="end" fill="#222" textLength="18.4" lengthAdjust="spacingAndGlyphs">400K</text>
<line x1="72.60000000000001" y1="489.15999999999997" x2="75.4" y2="489.15999999999997" stroke="#111" stroke-width="1.2" />
<text x="71.30000000000001" y="507.53" font-size="7.8" text-anchor="end" fill="#222" textLength="18.4" lengthAdjust="spacingAndGlyphs">200K</text>
<line x1="72.60000000000001" y1="504.78" x2="75.4" y2="504.78" stroke="#111" stroke-width="1.2" />
<text x="71.30000000000001" y="523.15" font-size="7.8" text-anchor="end" fill="#222">0</text>
<line x1="72.60000000000001" y1="520.4" x2="75.4" y2="520.4" stroke="#111" stroke-width="1.2" />
<line x1="73.9" y1="446.2049999999999" x2="75.4" y2="446.2049999999999" stroke="#111" stroke-width="0.8" />
<line x1="73.9" y1="450.10999999999996" x2="75.4" y2="450.10999999999996" stroke="#111" stroke-width="0.8" />
<line x1="73.9" y1="454.01499999999993" x2="75.4" y2="454.01499999999993" stroke="#111" stroke-width="0.8" />
<line x1="73.9" y1="461.82499999999993" x2="75.4" y2="461.82499999999993" stroke="#111" stroke-width="0.8" />
<line x1="73.9" y1="465.72999999999996" x2="75.4" y2="465.72999999999996" stroke="#111" stroke-width="0.8" />
<line x1="73.9" y1="469.63499999999993" x2="75.4" y2="469.63499999999993" stroke="#111" stroke-width="0.8" />
<line x1="73.9" y1="477.44499999999994" x2="75.4" y2="477.44499999999994" stroke="#111" stroke-width="0.8" />
<line x1="73.9" y1="481.34999999999997" x2="75.4" y2="481.34999999999997" stroke="#111" stroke-width="0.8" />
<line x1="73.9" y1="485.25499999999994" x2="75.4" y2="485.25499999999994" stroke="#111" stroke-width="0.8" />
<line x1="73.9" y1="493.06499999999994" x2="75.4" y2="493.06499999999994" stroke="#111" stroke-width="0.8" />
<line x1="73.9" y1="496.96999999999997" x2="75.4" y2="496.96999999999997" stroke="#111" stroke-width="0.8" />
<line x1="73.9" y1="500.87499999999994" x2="75.4" y2="500.87499999999994" stroke="#111" stroke-width="0.8" />
<line x1="73.9" y1="508.68499999999995" x2="75.4" y2="508.68499999999995" stroke="#111" stroke-width="0.8" />
<line x1="73.9" y1="512.5899999999999" x2="75.4" y2="512.5899999999999" stroke="#111" stroke-width="0.8" />
<line x1="73.9" y1="516.4949999999999" x2="75.4" y2="516.4949999999999" stroke="#111" stroke-width="0.8" />
<text x="80.60000000000001" y="534.6" font-size="7.6" text-anchor="middle" fill="#222">0</text>
<line x1="80.60000000000001" y1="521.6" x2="80.60000000000001" y2="523.8000000000001" stroke="#111" stroke-width="1.0" />
<text x="85.5" y="534.6" font-size="7.6" fill="#222" textLength="8.4" lengthAdjust="spacingAndGlyphs">10</text>
<text x="94.1" y="531.3000000000001" font-size="4.6" fill="#222">2</text>
<line x1="89.9" y1="521.6" x2="89.9" y2="523.8000000000001" stroke="#111" stroke-width="1.0" />
<text x="103.4" y="534.6" font-size="7.6" fill="#222" textLength="8.4" lengthAdjust="spacingAndGlyphs">10</text>
<text x="112.0" y="531.3000000000001" font-size="4.6" fill="#222">3</text>
<line x1="107.80000000000001" y1="521.6" x2="107.80000000000001" y2="523.8000000000001" stroke="#111" stroke-width="1.0" />
<text x="118.60000000000001" y="534.6" font-size="7.6" fill="#222" textLength="8.4" lengthAdjust="spacingAndGlyphs">10</text>
<text x="127.2" y="531.3000000000001" font-size="4.6" fill="#222">4</text>
<line x1="123.00000000000001" y1="521.6" x2="123.00000000000001" y2="523.8000000000001" stroke="#111" stroke-width="1.0" />
<text x="133.10000000000002" y="534.6" font-size="7.6" fill="#222" textLength="8.4" lengthAdjust="spacingAndGlyphs">10</text>
<text x="141.70000000000002" y="531.3000000000001" font-size="4.6" fill="#222">5</text>
<line x1="137.50000000000003" y1="521.6" x2="137.50000000000003" y2="523.8000000000001" stroke="#111" stroke-width="1.0" />
<text x="148.8" y="534.6" font-size="7.6" fill="#222" textLength="8.4" lengthAdjust="spacingAndGlyphs">10</text>
<text x="157.4" y="531.3000000000001" font-size="4.6" fill="#222">6</text>
<line x1="153.20000000000002" y1="521.6" x2="153.20000000000002" y2="523.8000000000001" stroke="#111" stroke-width="1.0" />
<line x1="84.4" y1="521.6" x2="84.4" y2="523.0" stroke="#111" stroke-width="0.7" />
<line x1="87.4" y1="521.6" x2="87.4" y2="523.0" stroke="#111" stroke-width="0.7" />
<line x1="89.4" y1="521.6" x2="89.4" y2="523.0" stroke="#111" stroke-width="0.7" />
<line x1="96.4" y1="521.6" x2="96.4" y2="523.0" stroke="#111" stroke-width="0.7" />
<line x1="99.4" y1="521.6" x2="99.4" y2="523.0" stroke="#111" stroke-width="0.7" />
<line x1="101.4" y1="521.6" x2="101.4" y2="523.0" stroke="#111" stroke-width="0.7" />
<line x1="111.4" y1="521.6" x2="111.4" y2="523.0" stroke="#111" stroke-width="0.7" />
<line x1="114.4" y1="521.6" x2="114.4" y2="523.0" stroke="#111" stroke-width="0.7" />
<line x1="116.4" y1="521.6" x2="116.4" y2="523.0" stroke="#111" stroke-width="0.7" />
<line x1="126.4" y1="521.6" x2="126.4" y2="523.0" stroke="#111" stroke-width="0.7" />
<line x1="129.4" y1="521.6" x2="129.4" y2="523.0" stroke="#111" stroke-width="0.7" />
<line x1="131.4" y1="521.6" x2="131.4" y2="523.0" stroke="#111" stroke-width="0.7" />
<line x1="141.4" y1="521.6" x2="141.4" y2="523.0" stroke="#111" stroke-width="0.7" />
<line x1="144.4" y1="521.6" x2="144.4" y2="523.0" stroke="#111" stroke-width="0.7" />
<line x1="146.4" y1="521.6" x2="146.4" y2="523.0" stroke="#111" stroke-width="0.7" />
<path d="M110.4,485.4 L153.60000000000002,485.4 L153.60000000000002,516.9 L105.2,516.9 Z" fill="none" stroke="#444" stroke-width="0.9" />
<text x="116.2" y="479.8" font-size="7.6" fill="#222" textLength="15.3" lengthAdjust="spacingAndGlyphs">45.4</text>
<rect x="75.4" y="438.4" width="82" height="83.2" fill="none" stroke="#000" stroke-width="1.5"/>
<text x="192.3" y="445.25" font-size="7.8" text-anchor="end" fill="#222" textLength="18.4" lengthAdjust="spacingAndGlyphs">1.0M</text>
<line x1="193.6" y1="442.5" x2="196.4" y2="442.5" stroke="#111" stroke-width="1.2" />
<text x="192.3" y="460.87" font-size="7.8" text-anchor="end" fill="#222" textLength="18.4" lengthAdjust="spacingAndGlyphs">800K</text>
<line x1="193.6" y1="458.12" x2="196.4" y2="458.12" stroke="#111" stroke-width="1.2" />
<text x="192.3" y="476.49" font-size="7.8" text-anchor="end" fill="#222" textLength="18.4" lengthAdjust="spacingAndGlyphs">600K</text>
<line x1="193.6" y1="473.74" x2="196.4" y2="473.74" stroke="#111" stroke-width="1.2" />
<text x="192.3" y="492.11" font-size="7.8" text-anchor="end" fill="#222" textLength="18.4" lengthAdjust="spacingAndGlyphs">400K</text>
<line x1="193.6" y1="489.36" x2="196.4" y2="489.36" stroke="#111" stroke-width="1.2" />
<text x="192.3" y="507.73" font-size="7.8" text-anchor="end" fill="#222" textLength="18.4" lengthAdjust="spacingAndGlyphs">200K</text>
<line x1="193.6" y1="504.98" x2="196.4" y2="504.98" stroke="#111" stroke-width="1.2" />
<text x="192.3" y="523.35" font-size="7.8" text-anchor="end" fill="#222">0</text>
<line x1="193.6" y1="520.6" x2="196.4" y2="520.6" stroke="#111" stroke-width="1.2" />
<line x1="194.9" y1="446.405" x2="196.4" y2="446.405" stroke="#111" stroke-width="0.8" />
<line x1="194.9" y1="450.31" x2="196.4" y2="450.31" stroke="#111" stroke-width="0.8" />
<line x1="194.9" y1="454.215" x2="196.4" y2="454.215" stroke="#111" stroke-width="0.8" />
<line x1="194.9" y1="462.025" x2="196.4" y2="462.025" stroke="#111" stroke-width="0.8" />
<line x1="194.9" y1="465.93" x2="196.4" y2="465.93" stroke="#111" stroke-width="0.8" />
<line x1="194.9" y1="469.835" x2="196.4" y2="469.835" stroke="#111" stroke-width="0.8" />
<line x1="194.9" y1="477.645" x2="196.4" y2="477.645" stroke="#111" stroke-width="0.8" />
<line x1="194.9" y1="481.55" x2="196.4" y2="481.55" stroke="#111" stroke-width="0.8" />
<line x1="194.9" y1="485.455" x2="196.4" y2="485.455" stroke="#111" stroke-width="0.8" />
<line x1="194.9" y1="493.265" x2="196.4" y2="493.265" stroke="#111" stroke-width="0.8" />
<line x1="194.9" y1="497.17" x2="196.4" y2="497.17" stroke="#111" stroke-width="0.8" />
<line x1="194.9" y1="501.075" x2="196.4" y2="501.075" stroke="#111" stroke-width="0.8" />
<line x1="194.9" y1="508.885" x2="196.4" y2="508.885" stroke="#111" stroke-width="0.8" />
<line x1="194.9" y1="512.79" x2="196.4" y2="512.79" stroke="#111" stroke-width="0.8" />
<line x1="194.9" y1="516.6949999999999" x2="196.4" y2="516.6949999999999" stroke="#111" stroke-width="0.8" />
<text x="200.70000000000002" y="533.1" font-size="7.6" text-anchor="middle" fill="#222">0</text>
<line x1="200.70000000000002" y1="521.8000000000001" x2="200.70000000000002" y2="524.0000000000001" stroke="#111" stroke-width="1.0" />
<text x="209.6" y="533.1" font-size="7.6" fill="#222" textLength="8.4" lengthAdjust="spacingAndGlyphs">10</text>
<text x="218.2" y="529.8000000000001" font-size="4.6" fill="#222">2</text>
<line x1="214.0" y1="521.8000000000001" x2="214.0" y2="524.0000000000001" stroke="#111" stroke-width="1.0" />
<text x="226.6" y="533.1" font-size="7.6" fill="#222" textLength="8.4" lengthAdjust="spacingAndGlyphs">10</text>
<text x="235.2" y="529.8000000000001" font-size="4.6" fill="#222">3</text>
<line x1="231.0" y1="521.8000000000001" x2="231.0" y2="524.0000000000001" stroke="#111" stroke-width="1.0" />
<text x="242.9" y="533.1" font-size="7.6" fill="#222" textLength="8.4" lengthAdjust="spacingAndGlyphs">10</text>
<text x="251.5" y="529.8000000000001" font-size="4.6" fill="#222">4</text>
<line x1="247.3" y1="521.8000000000001" x2="247.3" y2="524.0000000000001" stroke="#111" stroke-width="1.0" />
<text x="257.2" y="533.1" font-size="7.6" fill="#222" textLength="8.4" lengthAdjust="spacingAndGlyphs">10</text>
<text x="265.8" y="529.8000000000001" font-size="4.6" fill="#222">5</text>
<line x1="261.59999999999997" y1="521.8000000000001" x2="261.59999999999997" y2="524.0000000000001" stroke="#111" stroke-width="1.0" />
<text x="273.8" y="533.1" font-size="7.6" fill="#222" textLength="8.4" lengthAdjust="spacingAndGlyphs">10</text>
<text x="282.40000000000003" y="529.8000000000001" font-size="4.6" fill="#222">6</text>
<line x1="278.2" y1="521.8000000000001" x2="278.2" y2="524.0000000000001" stroke="#111" stroke-width="1.0" />
<line x1="205.4" y1="521.8000000000001" x2="205.4" y2="523.2" stroke="#111" stroke-width="0.7" />
<line x1="208.4" y1="521.8000000000001" x2="208.4" y2="523.2" stroke="#111" stroke-width="0.7" />
<line x1="210.4" y1="521.8000000000001" x2="210.4" y2="523.2" stroke="#111" stroke-width="0.7" />
<line x1="217.4" y1="521.8000000000001" x2="217.4" y2="523.2" stroke="#111" stroke-width="0.7" />
<line x1="220.4" y1="521.8000000000001" x2="220.4" y2="523.2" stroke="#111" stroke-width="0.7" />
<line x1="222.4" y1="521.8000000000001" x2="222.4" y2="523.2" stroke="#111" stroke-width="0.7" />
<line x1="232.4" y1="521.8000000000001" x2="232.4" y2="523.2" stroke="#111" stroke-width="0.7" />
<line x1="235.4" y1="521.8000000000001" x2="235.4" y2="523.2" stroke="#111" stroke-width="0.7" />
<line x1="237.4" y1="521.8000000000001" x2="237.4" y2="523.2" stroke="#111" stroke-width="0.7" />
<line x1="247.4" y1="521.8000000000001" x2="247.4" y2="523.2" stroke="#111" stroke-width="0.7" />
<line x1="250.4" y1="521.8000000000001" x2="250.4" y2="523.2" stroke="#111" stroke-width="0.7" />
<line x1="252.4" y1="521.8000000000001" x2="252.4" y2="523.2" stroke="#111" stroke-width="0.7" />
<line x1="262.4" y1="521.8000000000001" x2="262.4" y2="523.2" stroke="#111" stroke-width="0.7" />
<line x1="265.4" y1="521.8000000000001" x2="265.4" y2="523.2" stroke="#111" stroke-width="0.7" />
<line x1="267.4" y1="521.8000000000001" x2="267.4" y2="523.2" stroke="#111" stroke-width="0.7" />
<path d="M233.10000000000002,486.6 L274.9,486.6 L274.9,518.2 L226.8,518.2 Z" fill="none" stroke="#444" stroke-width="0.9" />
<text x="239.5" y="479.8" font-size="7.6" fill="#222" textLength="15.3" lengthAdjust="spacingAndGlyphs">0.14</text>
<rect x="196.4" y="438.6" width="82" height="83.2" fill="none" stroke="#000" stroke-width="1.5"/>
<text x="117.1" y="327.7" font-size="10" text-anchor="middle" textLength="26" lengthAdjust="spacingAndGlyphs">Day 3</text>
<text x="240" y="327.7" font-size="10" text-anchor="middle" textLength="32" lengthAdjust="spacingAndGlyphs">Day 28</text>
<line x1="158" y1="373.4" x2="166" y2="373.4" stroke="#111" stroke-width="1.3" />
<path d="M171.4,373.4 L162.9,377.1 L164.9,373.4 L162.9,369.7 Z" fill="#000" stroke="none" stroke-width="1" />
<line x1="158" y1="481.2" x2="166" y2="481.2" stroke="#111" stroke-width="1.3" />
<path d="M171.4,481.2 L162.9,484.9 L164.9,481.2 L162.9,477.5 Z" fill="#000" stroke="none" stroke-width="1" />
<text x="300.1" y="288.9" font-size="12.4" font-weight="bold" fill="#000">F</text>
<line x1="339.4" y1="297.6" x2="339.4" y2="361.9" stroke="#111" stroke-width="1.4" />
<line x1="335.1" y1="361.2" x2="339.4" y2="361.2" stroke="#111" stroke-width="1.2" />
<line x1="336.8" y1="345.45" x2="339.4" y2="345.45" stroke="#111" stroke-width="1.2" />
<line x1="335.1" y1="329.7" x2="339.4" y2="329.7" stroke="#111" stroke-width="1.2" />
<line x1="336.8" y1="313.95" x2="339.4" y2="313.95" stroke="#111" stroke-width="1.2" />
<line x1="335.1" y1="298.2" x2="339.4" y2="298.2" stroke="#111" stroke-width="1.2" />
<text x="334.3" y="301.3" font-size="8.5" text-anchor="end" fill="#333">100</text>
<text x="334.3" y="332.8" font-size="8.5" text-anchor="end" fill="#333">50</text>
<text x="334.3" y="364.3" font-size="8.5" text-anchor="end" fill="#333">0</text>
<line x1="338.7" y1="361.2" x2="432" y2="361.2" stroke="#111" stroke-width="1.4" />
<line x1="339.4" y1="361.2" x2="339.4" y2="364.6" stroke="#111" stroke-width="1.2" />
<line x1="354.7175" y1="361.2" x2="354.7175" y2="363.2" stroke="#111" stroke-width="1.2" />
<line x1="370.03499999999997" y1="361.2" x2="370.03499999999997" y2="364.6" stroke="#111" stroke-width="1.2" />
<line x1="385.35249999999996" y1="361.2" x2="385.35249999999996" y2="363.2" stroke="#111" stroke-width="1.2" />
<line x1="400.66999999999996" y1="361.2" x2="400.66999999999996" y2="364.6" stroke="#111" stroke-width="1.2" />
<line x1="415.98749999999995" y1="361.2" x2="415.98749999999995" y2="363.2" stroke="#111" stroke-width="1.2" />
<line x1="431.30499999999995" y1="361.2" x2="431.30499999999995" y2="364.6" stroke="#111" stroke-width="1.2" />
<text x="339.6" y="373.7" font-size="8.5" text-anchor="middle" fill="#333">0</text>
<text x="370.235" y="373.7" font-size="8.5" text-anchor="middle" fill="#333">50</text>
<text x="400.87" y="373.7" font-size="8.5" text-anchor="middle" fill="#333">100</text>
<text x="431.505" y="373.7" font-size="8.5" text-anchor="middle" fill="#333">150</text>
<text x="385.2" y="387" font-size="9.8" text-anchor="middle" fill="#222" textLength="89.8" lengthAdjust="spacingAndGlyphs">Days post transplantation</text>
<text x="306" y="336.3" font-size="9.5" text-anchor="middle" fill="#333" textLength="52.6" lengthAdjust="spacingAndGlyphs" transform="rotate(-90 306 336.3)">Leukemia free</text>
<text x="317.3" y="335.3" font-size="9.5" text-anchor="middle" fill="#333" textLength="41.3" lengthAdjust="spacingAndGlyphs" transform="rotate(-90 317.3 335.3)">survival (%)</text>
<path d="M339.6,298 H348.5 V301.5 H354.2 V319.2 H355.8 V323 H357.3 V347.7 H365 V351.2 H381.2 V354.3 H388.5 V357.7 H398.8" fill="none" stroke="#2450cc" stroke-width="1.3" />
<path d="M339.6,298 H348 V305.4 H354.2 L355.2,330 L356.5,343 H357.8 V346.6 H373.2 V353.8 H387 V361.2" fill="none" stroke="#dd1f2e" stroke-width="1.3" />
<line x1="398.4" y1="355.8" x2="398.4" y2="359.2" stroke="#dd1f2e" stroke-width="1.2" />
<text x="383.4" y="298.1" font-size="9.7" textLength="73.8" lengthAdjust="spacingAndGlyphs">MSCV retrovirus</text>
<line x1="386.5" y1="300.5" x2="453.2" y2="300.5" stroke="#111" stroke-width="1.5" />
<line x1="391.1" y1="307.5" x2="401.6" y2="307.5" stroke="#2450cc" stroke-width="1.3" />
<line x1="396.4" y1="306.2" x2="396.4" y2="307.5" stroke="#2450cc" stroke-width="1" />
<text x="404.6" y="310.3" font-size="8" textLength="46.8" lengthAdjust="spacingAndGlyphs">Empty vector</text>
<line x1="391.1" y1="319.8" x2="401.6" y2="319.8" stroke="#dd1f2e" stroke-width="1.3" />
<line x1="396.4" y1="318.5" x2="396.4" y2="319.8" stroke="#dd1f2e" stroke-width="1" />
<text x="404.4" y="322.6" font-size="8" font-style="italic" textLength="23.2" lengthAdjust="spacingAndGlyphs">Gata2</text>
<text x="427.7" y="319.6" font-size="5.5" font-style="italic" textLength="8" lengthAdjust="spacingAndGlyphs">WT</text>
<text x="437.8" y="322.6" font-size="8" textLength="20.8" lengthAdjust="spacingAndGlyphs">MSCV</text>
<text x="406.4" y="359.3" font-size="8" font-style="italic" fill="#222">P</text>
<text x="413.8" y="359.3" font-size="8" fill="#222" textLength="31.2" lengthAdjust="spacingAndGlyphs">= 0.6158</text>
<text x="299" y="415.2" font-size="12.8" font-weight="bold" fill="#000">G</text>
<text x="332" y="439.1" font-size="10" textLength="60.2" lengthAdjust="spacingAndGlyphs">Empty vector</text>
<text x="417.6" y="439.1" font-size="9.8" font-style="italic" textLength="26.8" lengthAdjust="spacingAndGlyphs">Gata2</text>
<text x="445.1" y="435.6" font-size="5.6" font-style="italic" textLength="8.6" lengthAdjust="spacingAndGlyphs">WT</text>
<text x="456.4" y="439.1" font-size="9.8" textLength="28" lengthAdjust="spacingAndGlyphs">MSCV</text>
<line x1="331.5" y1="460.2" x2="331.5" y2="530.9" stroke="#111" stroke-width="1.4" />
<line x1="328.7" y1="467.2" x2="331.5" y2="467.2" stroke="#111" stroke-width="1.3" />
<text x="328.0" y="470.3" font-size="8.5" text-anchor="end" fill="#333">100</text>
<line x1="328.7" y1="498.79999999999995" x2="331.5" y2="498.79999999999995" stroke="#111" stroke-width="1.3" />
<text x="328.0" y="501.9" font-size="8.5" text-anchor="end" fill="#333">50</text>
<line x1="328.7" y1="530.4" x2="331.5" y2="530.4" stroke="#111" stroke-width="1.3" />
<text x="328.0" y="533.5" font-size="8.5" text-anchor="end" fill="#333">0</text>
<line x1="330.8" y1="530.6" x2="396.4" y2="530.6" stroke="#111" stroke-width="1.4" />
<line x1="446.9" y1="460.2" x2="446.9" y2="530.9" stroke="#111" stroke-width="1.4" />
<line x1="444.09999999999997" y1="467.2" x2="446.9" y2="467.2" stroke="#111" stroke-width="1.3" />
<text x="443.4" y="470.3" font-size="8.5" text-anchor="end" fill="#333">100</text>
<line x1="444.09999999999997" y1="498.79999999999995" x2="446.9" y2="498.79999999999995" stroke="#111" stroke-width="1.3" />
<text x="443.4" y="501.9" font-size="8.5" text-anchor="end" fill="#333">50</text>
<line x1="444.09999999999997" y1="530.4" x2="446.9" y2="530.4" stroke="#111" stroke-width="1.3" />
<text x="443.4" y="533.5" font-size="8.5" text-anchor="end" fill="#333">0</text>
<line x1="446.2" y1="530.6" x2="513" y2="530.6" stroke="#111" stroke-width="1.4" />
<line x1="350.3" y1="530.6" x2="350.3" y2="533.2" stroke="#111" stroke-width="1.1" />
<line x1="378.1" y1="530.6" x2="378.1" y2="533.2" stroke="#111" stroke-width="1.1" />
<line x1="466.1" y1="530.6" x2="466.1" y2="533.2" stroke="#111" stroke-width="1.1" />
<line x1="493.1" y1="530.6" x2="493.1" y2="533.2" stroke="#111" stroke-width="1.1" />
<rect x="341.5" y="497.8" width="17.5" height="32.8" fill="#4dd2f6" />
<rect x="369.4" y="490.5" width="17.5" height="40.1" fill="#4dd2f6" />
<line x1="350.3" y1="485.2" x2="350.3" y2="509.3" stroke="#1438a8" stroke-width="1.4" />
<line x1="345.3" y1="485.2" x2="355.2" y2="485.2" stroke="#1438a8" stroke-width="1.5" />
<line x1="345.3" y1="509.3" x2="355.2" y2="509.3" stroke="#1438a8" stroke-width="1.5" />
<circle cx="350.3" cy="497.8" r="1.6" fill="#1438a8" stroke="none" stroke-width="1"/>
<circle cx="350.3" cy="509.3" r="1.6" fill="#1438a8" stroke="none" stroke-width="1"/>
<line x1="378.1" y1="463.4" x2="378.1" y2="516.2" stroke="#1438a8" stroke-width="1.4" />
<line x1="373.6" y1="463.4" x2="382.7" y2="463.4" stroke="#1438a8" stroke-width="1.5" />
<line x1="373.6" y1="516.2" x2="382.7" y2="516.2" stroke="#1438a8" stroke-width="1.5" />
<circle cx="370" cy="466.8" r="1.6" fill="#1438a8" stroke="none" stroke-width="1"/>
<circle cx="373.4" cy="466.5" r="1.6" fill="#1438a8" stroke="none" stroke-width="1"/>
<circle cx="375.9" cy="467" r="1.6" fill="#1438a8" stroke="none" stroke-width="1"/>
<circle cx="378.1" cy="467.6" r="1.6" fill="#1438a8" stroke="none" stroke-width="1"/>
<circle cx="380.4" cy="466.8" r="1.6" fill="#1438a8" stroke="none" stroke-width="1"/>
<circle cx="383.2" cy="467" r="1.6" fill="#1438a8" stroke="none" stroke-width="1"/>
<circle cx="386.5" cy="466.8" r="1.6" fill="#1438a8" stroke="none" stroke-width="1"/>
<circle cx="378.1" cy="474.5" r="1.6" fill="#1438a8" stroke="none" stroke-width="1"/>
<circle cx="375.5" cy="483.3" r="1.6" fill="#1438a8" stroke="none" stroke-width="1"/>
<circle cx="380.4" cy="483.3" r="1.6" fill="#1438a8" stroke="none" stroke-width="1"/>
<circle cx="378.1" cy="512.4" r="1.6" fill="#1438a8" stroke="none" stroke-width="1"/>
<circle cx="376" cy="521.8" r="1.6" fill="#1438a8" stroke="none" stroke-width="1"/>
<circle cx="380" cy="520.3" r="1.6" fill="#1438a8" stroke="none" stroke-width="1"/>
<circle cx="376" cy="529.2" r="1.6" fill="#1438a8" stroke="none" stroke-width="1"/>
<circle cx="380.5" cy="529.2" r="1.6" fill="#1438a8" stroke="none" stroke-width="1"/>
<line x1="346.5" y1="459.2" x2="378.6" y2="459.2" stroke="#333" stroke-width="1.4" />
<text x="362.4" y="456.4" font-size="8.6" text-anchor="middle" fill="#222" textLength="10" lengthAdjust="spacingAndGlyphs">NS</text>
<rect x="457.2" y="509.7" width="17.6" height="20.9" fill="#f4c2e0" />
<line x1="466.1" y1="501.6" x2="466.1" y2="516.5" stroke="#d0102a" stroke-width="1.4" />
<line x1="461.5" y1="501.6" x2="471" y2="501.6" stroke="#d0102a" stroke-width="1.5" />
<line x1="461.5" y1="516.5" x2="471" y2="516.5" stroke="#d0102a" stroke-width="1.5" />
<circle cx="466.1" cy="501.6" r="1.7" fill="#d0102a" stroke="none" stroke-width="1"/>
<circle cx="466.1" cy="509.2" r="1.7" fill="#d0102a" stroke="none" stroke-width="1"/>
<circle cx="466.1" cy="516.5" r="1.7" fill="#d0102a" stroke="none" stroke-width="1"/>
<circle cx="486" cy="530.2" r="1.4" fill="#d0102a" stroke="none" stroke-width="1"/>
<circle cx="488.3" cy="530.2" r="1.4" fill="#d0102a" stroke="none" stroke-width="1"/>
<circle cx="490.6" cy="530.2" r="1.4" fill="#d0102a" stroke="none" stroke-width="1"/>
<circle cx="493" cy="530.2" r="1.4" fill="#d0102a" stroke="none" stroke-width="1"/>
<circle cx="495.4" cy="530.2" r="1.4" fill="#d0102a" stroke="none" stroke-width="1"/>
<circle cx="497.8" cy="530.2" r="1.4" fill="#d0102a" stroke="none" stroke-width="1"/>
<circle cx="500.2" cy="530.2" r="1.4" fill="#d0102a" stroke="none" stroke-width="1"/>
<circle cx="502.5" cy="530.2" r="1.4" fill="#d0102a" stroke="none" stroke-width="1"/>
<line x1="485.5" y1="530.2" x2="503.5" y2="530.2" stroke="#d0102a" stroke-width="2.2" />
<line x1="464.1" y1="480.6" x2="495.9" y2="480.6" stroke="#333" stroke-width="1.4" />
<text x="480.2" y="480.7" font-size="8.5" text-anchor="middle" font-weight="bold" letter-spacing="-0.4">****</text>
<text x="304.5" y="498.5" font-size="9" text-anchor="middle" fill="#222" textLength="64" lengthAdjust="spacingAndGlyphs" transform="rotate(-90 304.5 498.5)">% mCherry+ Cells</text>
<text x="426.9" y="502.7" font-size="9" text-anchor="middle" fill="#222" textLength="66.4" lengthAdjust="spacingAndGlyphs" transform="rotate(-90 426.9 502.7)">% mCherry+ Cells</text>
<text x="308.6" y="542.6" font-size="10" textLength="20.6" lengthAdjust="spacingAndGlyphs">Day:</text>
<text x="350" y="542.6" font-size="8.8" text-anchor="middle" fill="#222">3</text>
<text x="377.9" y="542.6" font-size="8.8" text-anchor="middle" fill="#222">28</text>
<text x="421.5" y="543.9" font-size="10" textLength="17.8" lengthAdjust="spacingAndGlyphs">Day</text>
<text x="445.8" y="543.9" font-size="10" text-anchor="middle">:</text>
<text x="465.6" y="543.6" font-size="8.8" text-anchor="middle" fill="#222">3</text>
<text x="493" y="543.6" font-size="8.8" text-anchor="middle" fill="#222">28</text>
<rect x="0" y="0" width="520" height="1.35" fill="#000"/>
<rect x="0" y="0" width="1.45" height="556" fill="#000"/>
<rect x="518.5" y="0" width="1.5" height="556" fill="#000"/>
<rect x="0" y="554.4" width="520" height="1.6" fill="#000"/>
</svg>
</body></html>
